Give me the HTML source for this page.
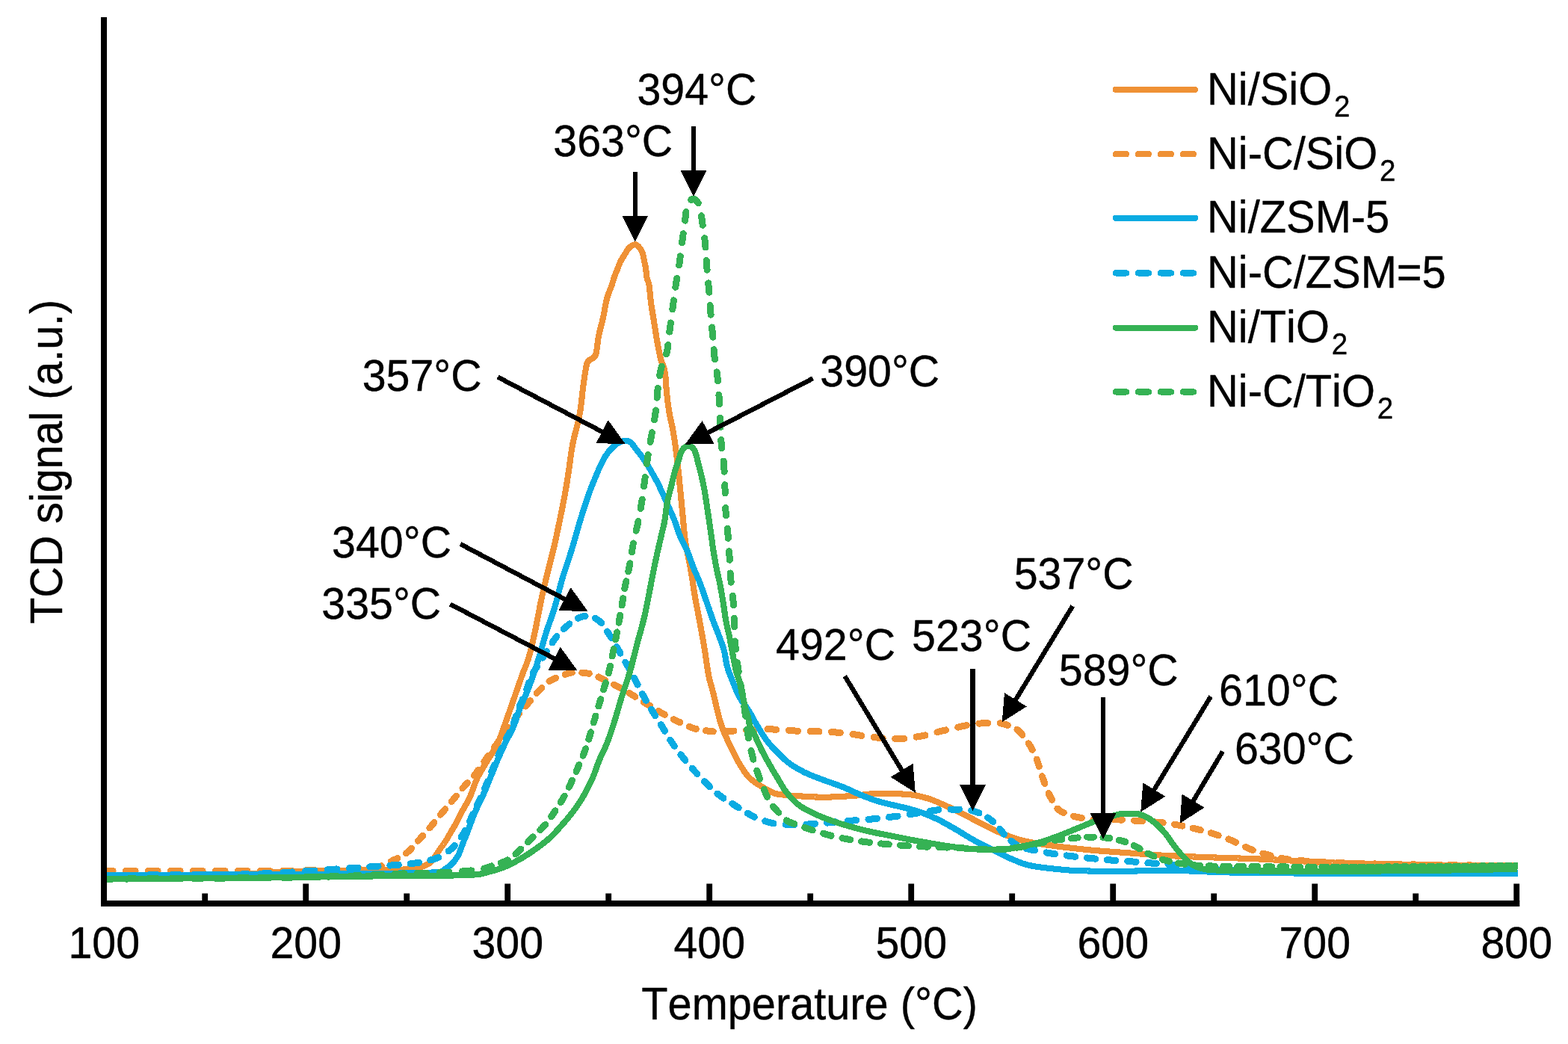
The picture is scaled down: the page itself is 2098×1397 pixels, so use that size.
<!DOCTYPE html>
<html lang="en"><head><meta charset="utf-8"><title>H2-TPR profiles</title>
<style>
html,body{margin:0;padding:0;background:#fff;}
body{width:2098px;height:1397px;overflow:hidden;}
svg{display:block;}
text{font-family:"Liberation Sans",Arial,Helvetica,sans-serif;font-size:59.4px;fill:#000;font-kerning:none;stroke:#000;stroke-width:0.4px;stroke-linejoin:round;}
.t{font-size:61.2px;}
.sub{font-size:40.8px;}
.c{fill:none;stroke-width:8.1;stroke-linejoin:round;stroke-linecap:butt;}
.d{stroke-linecap:round;stroke-width:9.0;}
</style></head><body>
<svg width="2098" height="1397" viewBox="0 0 2098 1397">
<rect width="2098" height="1397" fill="#fff"/>

<defs><clipPath id="pc"><rect x="138" y="0" width="1893" height="1205"/></clipPath></defs>
<g id="curves" clip-path="url(#pc)" shape-rendering="crispEdges">
<path class="c" stroke="#EF9135" d="M138.0,1172.0L140.0,1172.0L142.0,1172.0L144.0,1172.0L146.0,1172.0L148.0,1172.0L150.0,1172.0L152.0,1172.0L154.0,1172.0L156.0,1172.0L158.0,1172.0L160.0,1172.0L162.0,1172.0L164.0,1172.0L166.0,1171.9L168.0,1171.9L170.0,1171.9L172.0,1171.9L174.0,1171.9L176.0,1171.9L178.0,1171.9L180.0,1171.9L182.0,1171.9L184.0,1171.9L186.0,1171.9L188.0,1171.9L190.0,1171.9L192.0,1171.8L194.0,1171.8L196.0,1171.8L198.0,1171.8L200.0,1171.8L202.0,1171.8L204.0,1171.8L206.0,1171.8L208.0,1171.8L210.0,1171.7L212.0,1171.7L214.0,1171.7L216.0,1171.7L218.0,1171.7L220.0,1171.7L222.0,1171.7L224.0,1171.7L226.0,1171.7L228.0,1171.6L230.0,1171.6L232.0,1171.6L234.0,1171.6L236.0,1171.6L238.0,1171.6L240.0,1171.6L242.0,1171.6L244.0,1171.5L246.0,1171.5L248.0,1171.5L250.0,1171.5L252.0,1171.5L254.0,1171.5L256.0,1171.5L258.0,1171.4L260.0,1171.4L262.0,1171.4L264.0,1171.4L266.0,1171.4L268.0,1171.4L270.0,1171.4L272.0,1171.3L274.0,1171.3L276.0,1171.3L278.0,1171.3L280.0,1171.3L282.0,1171.2L284.0,1171.2L286.0,1171.2L288.0,1171.2L290.0,1171.2L292.0,1171.1L294.0,1171.1L296.0,1171.1L298.0,1171.0L300.0,1171.0L302.0,1171.0L304.0,1170.9L306.0,1170.8L308.0,1170.8L310.0,1170.7L312.0,1170.6L314.0,1170.5L316.0,1170.4L318.0,1170.3L320.0,1170.2L322.0,1170.1L324.0,1170.0L326.0,1169.8L328.0,1169.7L330.0,1169.6L332.0,1169.5L334.0,1169.3L336.0,1169.2L338.0,1169.1L340.0,1169.0L342.0,1168.9L344.0,1168.8L346.0,1168.6L348.0,1168.5L350.0,1168.4L352.0,1168.2L354.0,1168.1L356.0,1167.9L358.0,1167.8L360.0,1167.7L362.0,1167.5L364.0,1167.4L366.0,1167.2L368.0,1167.1L370.0,1167.0L372.0,1166.9L374.0,1166.8L376.0,1166.7L378.0,1166.6L380.0,1166.5L382.0,1166.4L384.0,1166.4L386.0,1166.3L388.0,1166.2L390.0,1166.2L392.0,1166.1L394.0,1166.1L396.0,1166.0L398.0,1166.0L400.0,1165.9L402.0,1165.9L404.0,1165.8L406.0,1165.8L408.0,1165.8L410.0,1165.7L412.0,1165.7L414.0,1165.6L416.0,1165.6L418.0,1165.5L420.0,1165.5L422.0,1165.5L424.0,1165.4L426.0,1165.4L428.0,1165.3L430.0,1165.3L432.0,1165.2L434.0,1165.2L436.0,1165.1L438.0,1165.1L440.0,1165.1L442.0,1165.0L444.0,1165.0L446.0,1164.9L448.0,1164.9L450.0,1164.8L452.0,1164.8L454.0,1164.8L456.0,1164.7L458.0,1164.7L460.0,1164.6L462.0,1164.6L464.0,1164.5L466.0,1164.5L468.0,1164.5L470.0,1164.4L472.0,1164.4L474.0,1164.4L476.0,1164.3L478.0,1164.3L480.0,1164.3L482.0,1164.2L484.0,1164.2L486.0,1164.2L488.0,1164.1L490.0,1164.1L492.0,1164.1L494.0,1164.1L496.0,1164.1L498.0,1164.0L500.0,1164.0L502.0,1164.0L504.0,1164.0L506.0,1164.0L508.0,1164.0L510.0,1163.9L512.0,1163.9L514.0,1163.9L516.0,1163.9L518.0,1163.9L520.0,1163.8L522.0,1163.8L524.0,1163.8L526.0,1163.8L528.0,1163.7L530.0,1163.7L532.0,1163.7L534.0,1163.6L536.0,1163.6L538.0,1163.6L540.0,1163.5L542.0,1163.4L544.0,1163.3L546.0,1163.1L548.0,1162.9L550.0,1162.7L552.0,1162.4L554.0,1162.1L556.0,1161.7L558.0,1161.4L560.0,1161.0L562.0,1160.5L564.0,1160.0L565.5,1159.5L567.0,1158.9L568.5,1158.3L570.0,1157.6L571.5,1156.9L573.0,1156.1L574.5,1155.1L576.0,1154.0L577.5,1152.6L578.5,1151.4L579.5,1150.1L580.5,1148.7L581.5,1147.2L582.5,1145.6L583.5,1144.0L584.5,1142.4L585.5,1140.8L586.5,1139.3L587.5,1137.9L588.5,1136.5L589.5,1135.1L590.5,1133.7L591.5,1132.3L592.5,1130.9L593.5,1129.5L594.5,1128.0L595.5,1126.5L596.5,1125.0L597.5,1123.4L598.5,1121.8L599.5,1120.1L600.5,1118.3L601.5,1116.6L602.5,1114.9L603.5,1113.1L604.5,1111.4L605.5,1109.7L606.5,1108.0L607.5,1106.4L608.5,1104.7L609.5,1102.9L610.5,1101.1L611.5,1099.1L612.5,1097.2L613.5,1095.1L614.5,1093.1L615.5,1091.1L616.5,1089.1L617.5,1087.2L618.5,1085.3L619.5,1083.5L620.5,1081.8L621.5,1080.0L622.5,1078.3L623.5,1076.5L624.5,1074.7L625.5,1072.9L626.5,1070.9L627.5,1069.0L628.5,1066.9L629.5,1064.7L630.5,1062.2L631.5,1059.6L632.5,1056.8L633.5,1054.0L634.5,1051.2L635.5,1048.5L636.5,1045.9L637.5,1043.6L638.5,1041.4L639.5,1039.4L640.5,1037.5L641.5,1035.6L642.5,1033.8L643.5,1032.0L644.5,1030.3L645.5,1028.7L646.5,1027.0L647.5,1025.4L648.5,1023.7L649.5,1022.1L650.5,1020.4L651.5,1018.7L652.5,1017.0L653.5,1015.4L654.5,1013.8L655.5,1012.3L656.5,1010.8L657.5,1009.3L658.5,1007.7L659.5,1006.2L660.5,1004.6L661.5,1003.0L662.5,1001.3L663.5,999.5L664.5,997.7L665.5,995.7L666.5,993.6L667.5,991.4L668.5,988.9L669.5,986.2L670.5,983.5L671.5,980.7L672.5,977.8L673.5,975.0L674.5,972.2L675.5,969.4L676.5,966.6L677.5,963.8L678.5,961.0L679.5,958.1L680.5,955.3L681.5,952.4L682.5,949.6L683.5,946.7L684.5,943.9L685.5,941.0L686.5,938.1L687.5,935.3L688.5,932.4L689.5,929.5L690.5,926.7L691.5,923.8L692.5,920.9L693.5,918.0L694.5,915.1L695.5,912.2L696.5,909.4L697.5,906.5L698.5,903.7L699.5,901.0L700.5,898.4L701.5,895.9L702.5,893.5L703.5,891.0L704.5,888.4L705.5,885.7L706.5,882.8L707.0,881.3L707.5,879.7L708.0,878.0L708.5,876.2L709.0,874.4L709.5,872.5L710.0,870.6L710.5,868.6L711.0,866.5L711.5,864.4L712.0,862.3L712.5,860.1L713.0,857.9L713.5,855.7L714.0,853.5L714.5,851.2L715.0,849.0L715.5,846.7L716.0,844.4L716.5,842.0L717.0,839.5L717.5,837.0L718.0,834.5L718.5,831.9L719.0,829.3L719.5,826.7L720.0,824.1L720.5,821.5L721.0,818.9L721.5,816.3L722.0,813.7L722.5,811.1L723.0,808.6L723.5,806.1L724.0,803.7L724.5,801.3L725.0,799.0L725.5,796.7L726.0,794.5L726.5,792.3L727.0,790.1L727.5,787.9L728.0,785.8L728.5,783.6L729.0,781.5L729.5,779.4L730.0,777.3L730.5,775.2L731.0,773.2L731.5,771.1L732.0,769.1L732.5,767.1L733.0,765.0L733.5,763.0L734.0,761.0L734.5,759.0L735.0,757.0L735.5,755.0L736.0,753.0L736.5,751.0L737.0,749.0L737.5,747.0L738.0,745.1L738.5,743.2L739.0,741.2L739.5,739.2L740.0,737.1L740.5,735.1L741.0,733.0L741.5,730.9L742.0,728.8L742.5,726.6L743.0,724.5L743.5,722.2L744.0,720.0L744.5,717.7L745.0,715.3L745.5,712.9L746.0,710.5L746.5,708.0L747.0,705.6L747.5,703.1L748.0,700.7L748.5,698.3L749.0,695.9L749.5,693.5L750.0,691.2L750.5,688.8L751.0,686.4L751.5,684.0L752.0,681.5L752.5,679.0L753.0,676.5L753.5,673.9L754.0,671.4L754.5,668.8L755.0,666.1L755.5,663.4L756.0,660.7L756.5,657.8L757.0,654.9L757.5,652.0L758.0,649.0L758.5,646.0L759.0,642.9L759.5,639.7L760.0,636.5L760.5,633.3L761.0,630.0L761.5,626.6L762.0,622.9L762.5,619.1L763.0,615.3L763.5,611.5L764.0,607.8L764.5,604.4L765.0,601.2L765.5,598.3L766.0,595.6L766.5,593.1L767.0,590.7L767.5,588.4L768.0,586.3L768.5,584.2L769.0,582.1L769.5,580.2L770.0,578.2L770.5,576.3L771.0,574.4L771.5,572.5L772.0,570.6L772.5,568.6L773.0,566.5L773.5,564.4L774.0,562.1L774.5,559.8L775.0,557.3L775.5,554.7L776.0,551.9L776.5,549.0L777.0,545.7L777.5,541.8L778.0,537.5L778.5,533.0L779.0,528.5L779.5,523.9L780.0,519.6L780.5,515.6L781.0,512.0L781.5,508.7L782.0,505.3L782.5,501.9L783.0,498.6L783.5,495.5L784.0,492.6L784.5,490.0L785.0,487.9L785.5,486.2L786.5,484.2L787.5,482.9L789.0,481.5L790.5,480.6L792.0,479.9L793.5,479.0L795.0,477.8L796.0,476.6L797.0,475.0L798.0,471.0L798.5,467.8L799.0,464.1L799.5,460.2L800.0,456.4L800.5,452.9L801.0,450.0L801.5,447.6L802.0,445.3L802.5,443.1L803.0,441.0L803.5,439.1L804.0,437.1L804.5,435.2L805.0,433.3L805.5,431.3L806.0,429.3L806.5,427.2L807.0,425.0L807.5,422.6L808.0,420.1L808.5,417.4L809.0,414.7L809.5,411.9L810.0,409.2L810.5,406.7L811.0,404.2L811.5,402.0L812.0,400.0L812.5,398.2L813.0,396.6L813.5,395.0L814.5,392.2L815.5,389.6L816.5,387.1L817.5,384.5L818.5,381.8L819.5,378.7L820.0,377.1L820.5,375.4L821.0,373.7L821.5,372.0L822.0,370.5L823.0,367.8L824.0,365.3L825.0,362.9L826.0,360.4L827.0,357.9L828.0,355.2L829.0,352.7L830.0,350.4L831.0,348.5L832.0,346.7L833.0,345.0L834.0,343.5L835.0,341.9L836.0,340.4L837.0,338.7L838.0,337.0L839.0,335.3L840.0,333.7L841.0,332.3L842.0,331.3L843.5,330.1L845.0,329.1L846.5,328.2L848.0,327.6L850.0,327.2L852.0,327.9L853.5,329.1L854.5,330.2L855.5,331.4L856.5,332.6L857.5,334.0L858.5,335.9L859.5,338.2L860.5,341.3L861.0,343.6L861.5,346.4L862.0,349.2L862.5,351.6L863.0,353.8L863.5,356.1L864.0,358.9L864.5,363.0L865.0,368.7L865.5,371.7L866.0,373.5L867.0,376.0L868.0,379.1L868.5,381.7L869.0,385.7L869.5,390.6L870.0,395.7L870.5,400.7L871.0,405.0L871.5,408.6L872.0,411.9L872.5,415.1L873.0,418.1L873.5,421.0L874.0,424.0L874.5,426.9L875.0,430.0L875.5,433.2L876.0,436.4L876.5,439.6L877.0,442.8L877.5,446.0L878.0,449.1L878.5,452.1L879.0,455.0L879.5,457.8L880.0,460.5L880.5,463.2L881.0,465.9L881.5,468.5L882.0,471.0L882.5,473.4L883.0,475.7L883.5,477.9L884.0,480.0L884.5,481.9L885.0,483.5L886.0,486.2L887.0,488.6L888.0,491.4L888.5,493.1L889.0,495.0L889.5,497.3L890.0,500.0L890.5,504.6L891.0,511.5L891.5,518.9L892.0,525.0L892.5,529.8L893.0,534.2L893.5,538.3L894.0,542.2L894.5,545.7L895.0,549.0L895.5,552.0L896.0,554.8L896.5,557.3L897.0,559.7L897.5,562.0L898.0,564.2L898.5,566.4L899.0,568.7L899.5,571.0L900.0,573.5L900.5,576.1L901.0,579.0L901.5,582.1L902.0,585.3L902.5,588.7L903.0,592.2L903.5,595.8L904.0,599.5L904.5,603.4L905.0,607.3L905.5,611.4L906.0,615.5L906.5,619.7L907.0,624.0L907.5,628.4L908.0,633.1L908.5,638.0L909.0,643.0L909.5,648.1L910.0,653.3L910.5,658.6L911.0,663.8L911.5,668.9L912.0,674.0L912.5,679.1L913.0,684.5L913.5,689.9L914.0,695.4L914.5,700.9L915.0,706.1L915.5,711.2L916.0,715.9L916.5,720.2L917.0,724.0L917.5,727.4L918.0,730.5L918.5,733.4L919.0,736.2L919.5,738.7L920.0,741.2L920.5,743.6L921.0,745.9L921.5,748.3L922.0,750.6L922.5,753.1L923.0,755.6L923.5,758.2L924.0,761.0L924.5,764.0L925.0,767.0L925.5,770.2L926.0,773.4L926.5,776.7L927.0,780.0L927.5,783.3L928.0,786.6L928.5,789.8L929.0,793.0L929.5,796.0L930.0,799.0L930.5,801.8L931.0,804.6L931.5,807.3L932.0,810.0L932.5,812.6L933.0,815.2L933.5,817.7L934.0,820.3L934.5,822.8L935.0,825.4L935.5,828.0L936.0,830.6L936.5,833.3L937.0,836.0L937.5,838.8L938.0,841.6L938.5,844.4L939.0,847.2L939.5,850.1L940.0,852.9L940.5,855.8L941.0,858.7L941.5,861.7L942.0,864.6L942.5,867.6L943.0,870.6L943.5,873.7L944.0,877.0L944.5,880.3L945.0,883.7L945.5,887.1L946.0,890.5L946.5,893.8L947.0,897.0L947.5,900.0L948.0,902.8L948.5,905.3L949.0,907.6L949.5,909.8L950.0,911.8L950.5,913.7L951.0,915.5L951.5,917.2L952.0,918.9L952.5,920.7L953.0,922.4L953.5,924.2L954.0,926.1L954.5,928.1L955.0,930.2L955.5,932.3L956.0,934.5L956.5,936.7L957.0,938.9L957.5,941.1L958.0,943.3L958.5,945.4L959.0,947.5L959.5,949.5L960.0,951.5L960.5,953.5L961.0,955.4L961.5,957.4L962.0,959.3L962.5,961.2L963.0,963.1L963.5,964.8L964.0,966.5L964.5,968.2L965.0,969.7L966.0,972.6L967.0,975.3L968.0,977.9L969.0,980.4L970.0,982.8L971.0,985.1L972.0,987.3L973.0,989.5L974.0,991.7L975.0,993.8L976.0,995.9L977.0,998.0L978.0,1000.1L979.0,1002.2L980.0,1004.3L981.0,1006.3L982.0,1008.3L983.0,1010.3L984.0,1012.3L985.0,1014.2L986.0,1016.0L987.0,1017.9L988.0,1019.6L989.0,1021.3L990.0,1023.0L991.0,1024.6L992.0,1026.2L993.0,1027.9L994.0,1029.4L995.0,1031.0L996.0,1032.5L997.0,1033.9L998.0,1035.3L999.0,1036.6L1000.0,1037.8L1001.0,1039.0L1002.0,1040.0L1003.5,1041.4L1005.0,1042.8L1006.5,1044.0L1008.0,1045.2L1009.5,1046.3L1011.0,1047.4L1012.5,1048.4L1014.0,1049.4L1015.5,1050.3L1017.0,1051.2L1018.5,1052.1L1020.0,1053.0L1021.5,1053.9L1023.0,1054.8L1024.5,1055.6L1026.0,1056.5L1027.5,1057.4L1029.0,1058.2L1030.5,1059.0L1032.0,1059.8L1033.5,1060.5L1035.0,1061.1L1036.5,1061.6L1038.5,1062.2L1040.5,1062.6L1042.5,1062.9L1044.5,1063.2L1046.5,1063.4L1048.5,1063.7L1050.5,1063.9L1052.5,1064.1L1054.5,1064.3L1056.5,1064.4L1058.5,1064.6L1060.5,1064.7L1062.5,1064.8L1064.5,1065.0L1066.5,1065.1L1068.5,1065.2L1070.5,1065.4L1072.5,1065.5L1074.5,1065.6L1076.5,1065.7L1078.5,1065.9L1080.5,1066.0L1082.5,1066.1L1084.5,1066.2L1086.5,1066.3L1088.5,1066.4L1090.5,1066.5L1092.5,1066.5L1094.5,1066.6L1096.5,1066.6L1098.5,1066.7L1100.5,1066.7L1102.5,1066.7L1104.5,1066.7L1106.5,1066.7L1108.5,1066.6L1110.5,1066.6L1112.5,1066.5L1114.5,1066.4L1116.5,1066.4L1118.5,1066.3L1120.5,1066.2L1122.5,1066.1L1124.5,1065.9L1126.5,1065.8L1128.5,1065.7L1130.5,1065.6L1132.5,1065.5L1134.5,1065.3L1136.5,1065.2L1138.5,1065.1L1140.5,1065.0L1142.5,1064.8L1144.5,1064.7L1146.5,1064.5L1148.5,1064.3L1150.5,1064.0L1152.5,1063.8L1154.5,1063.6L1156.5,1063.3L1158.5,1063.1L1160.5,1062.8L1162.5,1062.6L1164.5,1062.4L1166.5,1062.2L1168.5,1062.1L1170.5,1061.9L1172.5,1061.8L1174.5,1061.7L1176.5,1061.7L1178.5,1061.7L1180.5,1061.7L1182.5,1061.7L1184.5,1061.8L1186.5,1061.8L1188.5,1061.8L1190.5,1061.9L1192.5,1061.9L1194.5,1062.0L1196.5,1062.1L1198.5,1062.2L1200.5,1062.2L1202.5,1062.3L1204.5,1062.4L1206.5,1062.5L1208.5,1062.6L1210.5,1062.7L1212.5,1062.8L1214.5,1063.0L1216.5,1063.1L1218.5,1063.3L1220.5,1063.6L1222.5,1063.9L1224.5,1064.2L1226.5,1064.6L1228.5,1065.1L1230.5,1065.5L1232.5,1066.0L1234.5,1066.5L1236.5,1067.1L1238.5,1067.6L1240.5,1068.1L1242.5,1068.7L1244.5,1069.4L1246.0,1069.9L1247.5,1070.5L1249.0,1071.0L1250.5,1071.6L1252.0,1072.3L1253.5,1072.9L1255.0,1073.5L1256.5,1074.2L1258.0,1074.9L1259.5,1075.6L1261.0,1076.2L1262.5,1076.9L1264.0,1077.6L1265.5,1078.2L1267.0,1078.9L1268.5,1079.6L1270.0,1080.2L1271.5,1080.9L1273.0,1081.6L1274.5,1082.4L1276.0,1083.1L1277.5,1083.8L1279.0,1084.5L1280.5,1085.3L1282.0,1086.0L1283.5,1086.8L1285.0,1087.5L1286.5,1088.3L1288.0,1089.0L1289.5,1089.8L1291.0,1090.5L1292.5,1091.3L1294.0,1092.0L1295.5,1092.8L1297.0,1093.6L1298.5,1094.4L1300.0,1095.2L1301.5,1096.0L1303.0,1096.8L1304.5,1097.6L1306.0,1098.4L1307.5,1099.1L1309.0,1099.9L1310.5,1100.7L1312.0,1101.5L1313.5,1102.2L1315.0,1103.0L1316.5,1103.8L1318.0,1104.5L1319.5,1105.3L1321.0,1106.0L1322.5,1106.8L1324.0,1107.5L1325.5,1108.3L1327.0,1109.0L1328.5,1109.8L1330.0,1110.5L1331.5,1111.2L1333.0,1111.9L1334.5,1112.6L1336.0,1113.3L1337.5,1113.9L1339.0,1114.6L1340.5,1115.2L1342.0,1115.8L1343.5,1116.4L1345.0,1117.0L1346.5,1117.7L1348.0,1118.2L1349.5,1118.8L1351.0,1119.4L1352.5,1120.0L1354.0,1120.5L1355.5,1121.1L1357.0,1121.6L1358.5,1122.1L1360.5,1122.7L1362.5,1123.3L1364.5,1123.9L1366.5,1124.4L1368.5,1124.9L1370.5,1125.3L1372.5,1125.8L1374.5,1126.2L1376.5,1126.6L1378.5,1127.0L1380.5,1127.4L1382.5,1127.7L1384.5,1128.1L1386.5,1128.4L1388.5,1128.8L1390.5,1129.1L1392.5,1129.4L1394.5,1129.7L1396.5,1130.0L1398.5,1130.3L1400.5,1130.6L1402.5,1130.9L1404.5,1131.2L1406.5,1131.4L1408.5,1131.7L1410.5,1132.0L1412.5,1132.2L1414.5,1132.5L1416.5,1132.7L1418.5,1133.0L1420.5,1133.2L1422.5,1133.5L1424.5,1133.7L1426.5,1133.9L1428.5,1134.2L1430.5,1134.4L1432.5,1134.6L1434.5,1134.9L1436.5,1135.1L1438.5,1135.3L1440.5,1135.5L1442.5,1135.8L1444.5,1136.0L1446.5,1136.2L1448.5,1136.4L1450.5,1136.6L1452.5,1136.8L1454.5,1137.0L1456.5,1137.2L1458.5,1137.4L1460.5,1137.6L1462.5,1137.8L1464.5,1138.0L1466.5,1138.1L1468.5,1138.3L1470.5,1138.5L1472.5,1138.6L1474.5,1138.8L1476.5,1138.9L1478.5,1139.1L1480.5,1139.3L1482.5,1139.4L1484.5,1139.5L1486.5,1139.7L1488.5,1139.8L1490.5,1140.0L1492.5,1140.1L1494.5,1140.3L1496.5,1140.4L1498.5,1140.5L1500.5,1140.7L1502.5,1140.8L1504.5,1141.0L1506.5,1141.1L1508.5,1141.2L1510.5,1141.4L1512.5,1141.5L1514.5,1141.7L1516.5,1141.8L1518.5,1142.0L1520.5,1142.1L1522.5,1142.3L1524.5,1142.4L1526.5,1142.6L1528.5,1142.7L1530.5,1142.9L1532.5,1143.0L1534.5,1143.2L1536.5,1143.3L1538.5,1143.5L1540.5,1143.6L1542.5,1143.8L1544.5,1143.9L1546.5,1144.1L1548.5,1144.2L1550.5,1144.3L1552.5,1144.5L1554.5,1144.6L1556.5,1144.7L1558.5,1144.8L1560.5,1144.9L1562.5,1145.0L1564.5,1145.1L1566.5,1145.2L1568.5,1145.3L1570.5,1145.4L1572.5,1145.5L1574.5,1145.6L1576.5,1145.7L1578.5,1145.8L1580.5,1145.8L1582.5,1145.9L1584.5,1146.0L1586.5,1146.1L1588.5,1146.2L1590.5,1146.2L1592.5,1146.3L1594.5,1146.4L1596.5,1146.5L1598.5,1146.5L1600.5,1146.6L1602.5,1146.7L1604.5,1146.7L1606.5,1146.8L1608.5,1146.9L1610.5,1147.0L1612.5,1147.0L1614.5,1147.1L1616.5,1147.2L1618.5,1147.3L1620.5,1147.3L1622.5,1147.4L1624.5,1147.5L1626.5,1147.5L1628.5,1147.6L1630.5,1147.7L1632.5,1147.7L1634.5,1147.8L1636.5,1147.9L1638.5,1147.9L1640.5,1148.0L1642.5,1148.0L1644.5,1148.1L1646.5,1148.2L1648.5,1148.2L1650.5,1148.3L1652.5,1148.4L1654.5,1148.4L1656.5,1148.5L1658.5,1148.5L1660.5,1148.6L1662.5,1148.7L1664.5,1148.8L1666.5,1148.8L1668.5,1148.9L1670.5,1149.0L1672.5,1149.0L1674.5,1149.1L1676.5,1149.2L1678.5,1149.3L1680.5,1149.4L1682.5,1149.4L1684.5,1149.5L1686.5,1149.6L1688.5,1149.7L1690.5,1149.8L1692.5,1149.9L1694.5,1150.0L1696.5,1150.1L1698.5,1150.2L1700.5,1150.3L1702.5,1150.4L1704.5,1150.5L1706.5,1150.5L1708.5,1150.6L1710.5,1150.7L1712.5,1150.8L1714.5,1150.9L1716.5,1151.0L1718.5,1151.1L1720.5,1151.2L1722.5,1151.3L1724.5,1151.4L1726.5,1151.5L1728.5,1151.6L1730.5,1151.7L1732.5,1151.8L1734.5,1151.9L1736.5,1152.0L1738.5,1152.1L1740.5,1152.2L1742.5,1152.3L1744.5,1152.5L1746.5,1152.6L1748.5,1152.7L1750.5,1152.8L1752.5,1152.9L1754.5,1153.0L1756.5,1153.1L1758.5,1153.3L1760.5,1153.4L1762.5,1153.5L1764.5,1153.6L1766.5,1153.7L1768.5,1153.8L1770.5,1153.9L1772.5,1154.0L1774.5,1154.1L1776.5,1154.2L1778.5,1154.3L1780.5,1154.4L1782.5,1154.5L1784.5,1154.5L1786.5,1154.6L1788.5,1154.7L1790.5,1154.7L1792.5,1154.8L1794.5,1154.9L1796.5,1154.9L1798.5,1155.0L1800.5,1155.0L1802.5,1155.1L1804.5,1155.1L1806.5,1155.2L1808.5,1155.2L1810.5,1155.3L1812.5,1155.3L1814.5,1155.4L1816.5,1155.4L1818.5,1155.5L1820.5,1155.5L1822.5,1155.6L1824.5,1155.6L1826.5,1155.7L1828.5,1155.7L1830.5,1155.7L1832.5,1155.8L1834.5,1155.8L1836.5,1155.9L1838.5,1155.9L1840.5,1155.9L1842.5,1156.0L1844.5,1156.0L1846.5,1156.0L1848.5,1156.1L1850.5,1156.1L1852.5,1156.2L1854.5,1156.2L1856.5,1156.2L1858.5,1156.3L1860.5,1156.3L1862.5,1156.3L1864.5,1156.4L1866.5,1156.4L1868.5,1156.5L1870.5,1156.5L1872.5,1156.5L1874.5,1156.6L1876.5,1156.6L1878.5,1156.7L1880.5,1156.7L1882.5,1156.7L1884.5,1156.8L1886.5,1156.8L1888.5,1156.9L1890.5,1156.9L1892.5,1156.9L1894.5,1157.0L1896.5,1157.0L1898.5,1157.0L1900.5,1157.1L1902.5,1157.1L1904.5,1157.2L1906.5,1157.2L1908.5,1157.2L1910.5,1157.3L1912.5,1157.3L1914.5,1157.3L1916.5,1157.4L1918.5,1157.4L1920.5,1157.4L1922.5,1157.5L1924.5,1157.5L1926.5,1157.5L1928.5,1157.5L1930.5,1157.6L1932.5,1157.6L1934.5,1157.6L1936.5,1157.7L1938.5,1157.7L1940.5,1157.7L1942.5,1157.7L1944.5,1157.7L1946.5,1157.8L1948.5,1157.8L1950.5,1157.8L1952.5,1157.8L1954.5,1157.8L1956.5,1157.9L1958.5,1157.9L1960.5,1157.9L1962.5,1157.9L1964.5,1157.9L1966.5,1157.9L1968.5,1158.0L1970.5,1158.0L1972.5,1158.0L1974.5,1158.0L1976.5,1158.0L1978.5,1158.0L1980.5,1158.1L1982.5,1158.1L1984.5,1158.1L1986.5,1158.1L1988.5,1158.1L1990.5,1158.1L1992.5,1158.1L1994.5,1158.2L1996.5,1158.2L1998.5,1158.2L2000.5,1158.2L2002.5,1158.2L2004.5,1158.2L2006.5,1158.2L2008.5,1158.2L2010.5,1158.2L2012.5,1158.3L2014.5,1158.3L2016.5,1158.3L2018.5,1158.3L2020.5,1158.3L2022.5,1158.3L2024.5,1158.3L2026.5,1158.3L2028.5,1158.3L2030.0,1158.3"/>
<path class="c d" stroke="#EF9135" d="M138.5,1165.3L141.1,1165.3L143.7,1165.3L146.3,1165.3L148.9,1165.3L151.1,1165.3M168.5,1165.3L171.1,1165.3L173.7,1165.3L176.3,1165.3L178.9,1165.3L181.1,1165.3M198.5,1165.3L201.1,1165.3L203.7,1165.3L206.3,1165.3L208.9,1165.3L211.1,1165.3M228.5,1165.3L231.1,1165.3L233.7,1165.3L236.3,1165.3L238.9,1165.3L241.1,1165.3M258.5,1165.3L261.1,1165.3L263.7,1165.3L266.3,1165.3L268.9,1165.3L271.1,1165.3M288.5,1165.3L291.1,1165.3L293.7,1165.3L296.3,1165.3L298.9,1165.3L301.1,1165.3M318.5,1165.3L321.1,1165.3L323.7,1165.3L326.3,1165.3L328.9,1165.3L331.1,1165.3M348.5,1165.3L351.1,1165.3L353.7,1165.3L356.3,1165.3L358.9,1165.3L361.1,1165.3M378.4,1165.3L380.9,1165.3L383.4,1165.3L385.9,1165.2L388.4,1165.2L390.9,1165.2L391.0,1165.2M408.4,1164.9L410.9,1164.9L413.4,1164.8L415.9,1164.8L418.4,1164.7L420.9,1164.7L421.0,1164.7M438.4,1164.3L440.9,1164.2L443.4,1164.2L445.9,1164.1L448.4,1164.0L450.9,1164.0L451.0,1164.0M468.4,1163.5L470.9,1163.4L473.4,1163.3L475.8,1163.2L478.2,1163.1L480.6,1162.9L481.0,1162.9M498.4,1161.7L500.7,1161.4L502.9,1161.0L505.0,1160.5L507.0,1160.0L508.9,1159.3L510.3,1158.8M523.1,1152.9L524.8,1151.9L526.5,1151.0L528.2,1150.2L529.9,1149.4L531.6,1148.5L531.8,1148.4M543.4,1141.9L544.8,1140.8L546.2,1139.5L547.5,1138.3L548.8,1137.0L550.1,1135.6L550.5,1135.2M559.4,1125.2L560.7,1123.8L562.0,1122.4L563.2,1121.1L564.4,1119.8L565.6,1118.4L565.9,1118.1M574.8,1108.0L576.0,1106.6L577.2,1105.2L578.4,1103.7L579.6,1102.3L580.8,1100.8L581.0,1100.5M589.4,1090.2L590.6,1088.8L591.8,1087.3L593.0,1085.9L594.2,1084.5L595.4,1083.1L595.6,1082.8M604.3,1072.5L605.5,1071.1L606.7,1069.6L607.9,1068.2L609.1,1066.7L610.3,1065.2L610.4,1065.1M618.9,1054.8L620.1,1053.4L621.3,1052.0L622.5,1050.7L623.8,1049.3L625.1,1047.9L625.4,1047.6M634.5,1037.6L635.7,1036.1L636.8,1034.7L637.9,1033.3L639.0,1031.8L640.1,1030.2L640.3,1030.0M647.9,1019.0L649.0,1017.4L650.1,1015.9L651.2,1014.3L652.3,1012.8L653.4,1011.2L653.5,1011.1M661.3,1000.2L662.4,998.6L663.5,997.1L664.6,995.6L665.7,994.0L666.8,992.5L667.0,992.2M674.7,981.3L675.8,979.8L676.9,978.3L678.0,976.7L679.1,975.2L680.2,973.7L680.4,973.5M688.3,962.7L689.4,961.3L690.5,959.9L691.7,958.4L692.9,956.9L694.1,955.5L694.4,955.1M703.2,945.1L704.4,943.7L705.6,942.3L706.8,940.9L708.0,939.4L709.2,938.0L709.5,937.6M718.1,927.5L719.4,926.1L720.7,924.8L722.0,923.5L723.3,922.2L724.6,920.8L724.9,920.5M735.0,911.7L736.6,910.7L738.3,909.8L740.0,908.9L741.7,908.1L743.5,907.3M756.1,902.6L757.9,901.9L759.7,901.2L761.6,900.5L763.7,900.1L765.3,900.0M778.7,900.1L781.0,900.3L783.3,900.6L785.5,900.9L787.7,901.3L788.3,901.4M800.8,905.9L802.5,906.8L804.2,907.6L805.9,908.5L807.7,909.3L809.5,910.2M821.5,916.2L823.2,917.0L824.9,917.9L826.6,918.9L828.3,919.8L830.0,920.7L830.1,920.8M841.7,927.4L843.3,928.3L844.9,929.3L846.5,930.2L848.1,931.2L849.7,932.1L850.0,932.3M861.3,939.4L862.9,940.5L864.5,941.5L866.1,942.4L867.7,943.4L869.3,944.4L869.6,944.6M881.0,951.5L882.6,952.5L884.2,953.4L885.8,954.4L887.4,955.3L889.1,956.2L889.4,956.4M901.3,962.6L903.0,963.4L904.7,964.3L906.4,965.1L908.2,965.9L910.0,966.7M922.2,972.3L924.0,973.0L925.9,973.8L927.8,974.4L929.8,975.0L931.4,975.4M944.5,977.7L946.7,978.0L949.0,978.3L951.3,978.6L953.7,978.8L954.3,978.8M969.9,978.7L972.3,978.6L974.7,978.5L977.1,978.3L979.5,978.2L981.9,978.0M998.4,976.9L1000.7,976.7L1003.0,976.5L1005.3,976.3L1007.7,976.1L1010.1,975.9L1010.4,975.9M1026.9,975.6L1029.4,975.7L1031.8,975.8L1034.2,976.0L1036.6,976.1L1038.9,976.2M1055.5,977.3L1057.8,977.5L1060.1,977.7L1062.5,977.9L1064.9,978.1L1067.3,978.3L1067.4,978.3M1084.0,978.7L1086.5,978.7L1089.0,978.8L1091.5,978.8L1094.0,978.8L1096.0,978.9M1112.5,979.5L1114.9,979.7L1117.3,979.9L1119.7,980.1L1122.1,980.3L1124.4,980.5L1124.5,980.5M1140.9,982.5L1143.1,982.8L1145.3,983.2L1147.5,983.6L1149.7,983.9L1151.9,984.3L1152.8,984.4M1169.2,986.6L1171.5,986.9L1173.8,987.1L1176.1,987.4L1178.4,987.6L1180.8,987.8L1181.2,987.8M1197.7,988.4L1200.2,988.5L1202.7,988.5L1205.2,988.5L1207.7,988.4L1209.7,988.3M1226.1,986.1L1228.3,985.8L1230.5,985.4L1232.7,985.0L1234.8,984.6L1236.9,984.1L1237.9,983.9M1254.0,979.7L1256.0,979.2L1258.1,978.7L1260.2,978.2L1262.3,977.7L1264.3,977.2L1265.6,976.9M1281.7,973.1L1283.8,972.6L1285.9,972.2L1288.0,971.7L1290.1,971.3L1292.2,970.8L1293.5,970.5M1309.8,968.1L1312.3,968.0L1314.8,967.9L1317.3,967.8L1319.8,967.7L1321.8,967.7M1338.3,967.8L1340.5,968.2L1342.6,968.7L1344.6,969.3L1346.5,969.9L1348.4,970.5M1361.0,976.2L1362.4,977.3L1363.7,978.5L1365.0,979.8L1366.2,981.2L1367.4,982.6L1368.0,983.4M1376.2,994.8L1377.2,996.3L1378.2,997.9L1379.2,999.5L1380.2,1001.3L1381.1,1002.9L1381.3,1003.3M1387.2,1016.0L1387.9,1018.0L1388.6,1020.1L1389.3,1022.3L1389.9,1024.3L1390.3,1025.6M1394.4,1038.8L1395.1,1040.8L1395.8,1042.7L1396.5,1044.6L1397.2,1046.6L1397.9,1048.5M1403.0,1061.3L1403.8,1063.1L1404.7,1064.9L1405.6,1066.7L1406.5,1068.4L1407.4,1070.1L1407.5,1070.3M1414.8,1082.0L1416.1,1083.3L1417.6,1084.4L1419.2,1085.4L1420.8,1086.3L1422.5,1087.2L1423.2,1087.5M1436.5,1092.2L1438.6,1092.7L1440.7,1093.2L1442.8,1093.6L1444.9,1094.0L1447.0,1094.5L1447.3,1094.5M1463.0,1096.6L1465.5,1096.7L1468.0,1096.7L1470.5,1096.8L1473.0,1096.8L1474.4,1096.8M1490.2,1096.9L1492.7,1096.9L1495.2,1096.9L1497.7,1097.0L1500.2,1097.0L1501.7,1097.0M1517.5,1098.1L1519.9,1098.3L1522.3,1098.5L1524.7,1098.7L1527.1,1098.8L1528.9,1098.9M1544.7,1099.9L1547.1,1100.1L1549.5,1100.3L1551.8,1100.5L1554.1,1100.7L1556.1,1100.9M1571.5,1103.2L1573.7,1103.6L1575.9,1104.0L1578.1,1104.4L1580.3,1104.8L1581.9,1105.1M1596.1,1108.2L1598.2,1108.7L1600.3,1109.2L1602.4,1109.7L1604.4,1110.2L1606.3,1110.7M1620.2,1114.7L1622.2,1115.3L1624.2,1115.9L1626.1,1116.6L1628.0,1117.2L1629.9,1117.8L1630.2,1117.9M1643.9,1122.9L1645.7,1123.7L1647.5,1124.4L1649.3,1125.3L1651.0,1126.1L1652.7,1126.9L1653.4,1127.2M1666.5,1133.5L1668.3,1134.3L1670.1,1135.0L1671.9,1135.8L1673.7,1136.6L1675.5,1137.3L1676.2,1137.6M1689.9,1142.2L1691.9,1142.7L1693.9,1143.2L1695.9,1143.7L1698.0,1144.3L1700.1,1144.8M1714.1,1148.4L1716.2,1148.8L1718.3,1149.2L1720.5,1149.6L1722.8,1149.9L1724.5,1150.1M1738.9,1151.5L1741.3,1151.7L1743.7,1151.9L1746.1,1152.1L1748.5,1152.3L1749.4,1152.3M1763.8,1153.4L1766.2,1153.5L1768.6,1153.7L1771.0,1153.8L1773.4,1154.0L1774.3,1154.0M1788.8,1154.7L1791.3,1154.8L1793.8,1154.9L1796.3,1154.9L1798.8,1155.0L1799.3,1155.0M1813.8,1155.4L1816.3,1155.5L1818.8,1155.5L1821.3,1155.6L1823.8,1155.6L1824.3,1155.6M1838.8,1155.9L1841.3,1156.0L1843.8,1156.0L1846.3,1156.0L1848.8,1156.1L1849.3,1156.1M1863.8,1156.4L1866.3,1156.4L1868.8,1156.5L1871.3,1156.5L1873.8,1156.6L1874.3,1156.6M1888.8,1156.9L1891.3,1156.9L1893.8,1157.0L1896.3,1157.0L1898.8,1157.1L1899.3,1157.1M1913.8,1157.3L1916.3,1157.4L1918.8,1157.4L1921.3,1157.4L1923.8,1157.5L1924.3,1157.5M1938.8,1157.7L1941.3,1157.7L1943.8,1157.7L1946.3,1157.8L1948.8,1157.8L1949.3,1157.8M1963.8,1157.9L1966.3,1157.9L1968.8,1158.0L1971.3,1158.0L1973.8,1158.0L1974.3,1158.0M1988.8,1158.1L1991.3,1158.1L1993.8,1158.2L1996.3,1158.2L1998.8,1158.2L1999.3,1158.2M2013.8,1158.3L2016.3,1158.3L2018.8,1158.3L2021.3,1158.3L2023.8,1158.3L2024.3,1158.3"/>
<path class="c" stroke="#0AABE2" d="M138.0,1171.0L140.0,1171.0L142.0,1171.0L144.0,1171.0L146.0,1171.0L148.0,1171.0L150.0,1171.0L152.0,1171.0L154.0,1171.0L156.0,1170.9L158.0,1170.9L160.0,1170.9L162.0,1170.9L164.0,1170.9L166.0,1170.9L168.0,1170.9L170.0,1170.9L172.0,1170.9L174.0,1170.9L176.0,1170.9L178.0,1170.9L180.0,1170.9L182.0,1170.9L184.0,1170.9L186.0,1170.8L188.0,1170.8L190.0,1170.8L192.0,1170.8L194.0,1170.8L196.0,1170.8L198.0,1170.8L200.0,1170.8L202.0,1170.8L204.0,1170.8L206.0,1170.8L208.0,1170.8L210.0,1170.8L212.0,1170.7L214.0,1170.7L216.0,1170.7L218.0,1170.7L220.0,1170.7L222.0,1170.7L224.0,1170.7L226.0,1170.7L228.0,1170.7L230.0,1170.7L232.0,1170.7L234.0,1170.7L236.0,1170.6L238.0,1170.6L240.0,1170.6L242.0,1170.6L244.0,1170.6L246.0,1170.6L248.0,1170.6L250.0,1170.6L252.0,1170.6L254.0,1170.6L256.0,1170.6L258.0,1170.6L260.0,1170.5L262.0,1170.5L264.0,1170.5L266.0,1170.5L268.0,1170.5L270.0,1170.5L272.0,1170.5L274.0,1170.5L276.0,1170.5L278.0,1170.5L280.0,1170.5L282.0,1170.4L284.0,1170.4L286.0,1170.4L288.0,1170.4L290.0,1170.4L292.0,1170.4L294.0,1170.4L296.0,1170.4L298.0,1170.4L300.0,1170.4L302.0,1170.3L304.0,1170.3L306.0,1170.3L308.0,1170.3L310.0,1170.3L312.0,1170.3L314.0,1170.3L316.0,1170.3L318.0,1170.3L320.0,1170.3L322.0,1170.2L324.0,1170.2L326.0,1170.2L328.0,1170.2L330.0,1170.2L332.0,1170.2L334.0,1170.2L336.0,1170.2L338.0,1170.2L340.0,1170.2L342.0,1170.1L344.0,1170.1L346.0,1170.1L348.0,1170.1L350.0,1170.1L352.0,1170.1L354.0,1170.1L356.0,1170.1L358.0,1170.1L360.0,1170.1L362.0,1170.0L364.0,1170.0L366.0,1170.0L368.0,1170.0L370.0,1170.0L372.0,1170.0L374.0,1170.0L376.0,1170.0L378.0,1170.0L380.0,1169.9L382.0,1169.9L384.0,1169.9L386.0,1169.9L388.0,1169.9L390.0,1169.9L392.0,1169.9L394.0,1169.9L396.0,1169.9L398.0,1169.9L400.0,1169.8L402.0,1169.8L404.0,1169.8L406.0,1169.8L408.0,1169.8L410.0,1169.8L412.0,1169.8L414.0,1169.8L416.0,1169.7L418.0,1169.7L420.0,1169.7L422.0,1169.7L424.0,1169.7L426.0,1169.7L428.0,1169.7L430.0,1169.7L432.0,1169.6L434.0,1169.6L436.0,1169.6L438.0,1169.6L440.0,1169.6L442.0,1169.6L444.0,1169.5L446.0,1169.5L448.0,1169.5L450.0,1169.5L452.0,1169.5L454.0,1169.5L456.0,1169.4L458.0,1169.4L460.0,1169.4L462.0,1169.4L464.0,1169.4L466.0,1169.4L468.0,1169.3L470.0,1169.3L472.0,1169.3L474.0,1169.3L476.0,1169.3L478.0,1169.3L480.0,1169.2L482.0,1169.2L484.0,1169.2L486.0,1169.2L488.0,1169.2L490.0,1169.1L492.0,1169.1L494.0,1169.1L496.0,1169.1L498.0,1169.0L500.0,1169.0L502.0,1169.0L504.0,1169.0L506.0,1169.0L508.0,1168.9L510.0,1168.9L512.0,1168.9L514.0,1168.8L516.0,1168.8L518.0,1168.8L520.0,1168.8L522.0,1168.7L524.0,1168.7L526.0,1168.7L528.0,1168.6L530.0,1168.6L532.0,1168.6L534.0,1168.5L536.0,1168.5L538.0,1168.5L540.0,1168.4L542.0,1168.4L544.0,1168.4L546.0,1168.3L548.0,1168.3L550.0,1168.2L552.0,1168.2L554.0,1168.1L556.0,1168.1L558.0,1168.0L560.0,1168.0L562.0,1168.0L564.0,1167.9L566.0,1167.9L568.0,1167.8L570.0,1167.8L572.0,1167.7L574.0,1167.6L576.0,1167.6L578.0,1167.5L580.0,1167.4L582.0,1167.2L584.0,1167.1L586.0,1166.9L588.0,1166.7L590.0,1166.5L591.5,1165.9L593.0,1164.8L594.5,1163.6L596.0,1162.6L597.5,1161.6L599.0,1160.6L600.5,1159.6L602.0,1158.4L603.5,1157.1L605.0,1155.6L606.0,1154.6L607.0,1153.4L608.0,1152.2L609.0,1150.8L610.0,1149.4L611.0,1147.9L612.0,1146.3L613.0,1144.6L614.0,1142.7L615.0,1140.4L616.0,1137.8L617.0,1134.9L618.0,1132.1L619.0,1129.3L620.0,1126.8L621.0,1124.3L622.0,1121.8L623.0,1119.4L624.0,1116.9L625.0,1114.4L626.0,1111.9L627.0,1109.2L628.0,1106.5L629.0,1103.8L630.0,1101.0L631.0,1098.3L632.0,1095.6L633.0,1092.9L634.0,1090.4L635.0,1088.0L636.0,1085.7L637.0,1083.6L638.0,1081.5L639.0,1079.4L640.0,1077.4L641.0,1075.4L642.0,1073.4L643.0,1071.4L644.0,1069.3L645.0,1067.1L646.0,1064.9L647.0,1062.6L648.0,1060.3L649.0,1057.9L650.0,1055.5L651.0,1053.0L652.0,1050.6L653.0,1048.1L654.0,1045.7L655.0,1043.2L656.0,1040.8L657.0,1038.3L658.0,1035.8L659.0,1033.4L660.0,1030.9L661.0,1028.4L662.0,1025.9L663.0,1023.5L664.0,1021.1L665.0,1018.7L666.0,1016.4L667.0,1014.1L668.0,1011.8L669.0,1009.5L670.0,1007.3L671.0,1005.1L672.0,1002.9L673.0,1000.7L674.0,998.5L675.0,996.4L676.0,994.3L677.0,992.2L678.0,990.3L679.0,988.3L680.0,986.4L681.0,984.6L682.0,982.7L683.0,980.8L684.0,978.8L685.0,976.7L686.0,974.6L687.0,972.3L688.0,969.9L689.0,967.2L690.0,964.3L691.0,961.3L691.5,959.7L692.0,958.2L692.5,956.7L693.0,955.2L694.0,952.2L695.0,949.5L696.0,946.9L697.0,944.5L698.0,942.1L699.0,939.8L700.0,937.6L701.0,935.4L702.0,933.1L703.0,930.8L704.0,928.5L705.0,926.0L706.0,923.5L707.0,921.0L708.0,918.4L709.0,915.8L710.0,913.2L711.0,910.4L712.0,907.7L713.0,904.9L714.0,902.0L715.0,899.1L716.0,896.1L716.5,894.6L717.0,893.1L717.5,891.5L718.0,889.9L718.5,888.4L719.0,886.8L719.5,885.2L720.0,883.6L720.5,882.0L721.0,880.3L721.5,878.7L722.0,877.0L722.5,875.3L723.0,873.6L723.5,871.8L724.0,870.0L724.5,868.2L725.0,866.4L725.5,864.6L726.0,862.8L726.5,861.1L727.0,859.3L727.5,857.5L728.0,855.7L728.5,854.0L729.0,852.3L729.5,850.6L730.0,849.0L730.5,847.4L731.0,845.8L731.5,844.3L732.0,842.8L733.0,839.8L734.0,836.9L735.0,834.0L736.0,831.1L737.0,828.3L738.0,825.4L739.0,822.5L740.0,819.5L740.5,817.9L741.0,816.4L741.5,814.8L742.0,813.2L742.5,811.5L743.0,809.8L743.5,808.0L744.0,806.2L744.5,804.4L745.0,802.5L745.5,800.6L746.0,798.7L746.5,796.7L747.0,794.8L747.5,792.8L748.0,790.8L748.5,788.9L749.0,786.9L749.5,785.0L750.0,783.0L750.5,781.2L751.0,779.3L751.5,777.5L752.0,775.7L752.5,774.0L753.0,772.3L753.5,770.7L754.0,769.1L754.5,767.5L755.0,765.9L755.5,764.4L756.0,762.9L756.5,761.4L757.5,758.4L758.5,755.5L759.5,752.5L760.5,749.6L761.5,746.6L762.0,745.0L762.5,743.5L763.0,741.9L763.5,740.3L764.0,738.7L764.5,737.1L765.0,735.4L765.5,733.7L766.0,732.0L766.5,730.3L767.0,728.6L767.5,726.9L768.0,725.2L768.5,723.4L769.0,721.7L769.5,720.0L770.0,718.3L770.5,716.5L771.0,714.8L771.5,713.0L772.0,711.3L772.5,709.5L773.0,707.8L773.5,706.0L774.0,704.3L774.5,702.6L775.0,700.9L775.5,699.2L776.0,697.5L776.5,695.9L777.0,694.3L777.5,692.6L778.0,691.0L778.5,689.4L779.0,687.8L779.5,686.2L780.0,684.7L780.5,683.1L781.0,681.5L781.5,680.0L782.0,678.5L782.5,676.9L783.0,675.4L783.5,673.9L784.0,672.3L784.5,670.8L785.0,669.3L786.0,666.4L787.0,663.5L788.0,660.7L789.0,657.9L790.0,655.3L791.0,652.7L792.0,650.1L793.0,647.6L794.0,645.2L795.0,642.7L796.0,640.3L797.0,637.8L798.0,635.4L799.0,633.0L800.0,630.7L801.0,628.4L802.0,626.2L803.0,624.0L804.0,621.9L805.0,619.8L806.0,617.8L807.0,615.8L808.0,613.9L809.0,612.1L810.0,610.5L811.0,609.0L812.0,607.6L813.0,606.2L814.0,604.9L815.0,603.6L816.0,602.5L817.0,601.4L818.0,600.3L819.0,599.3L820.5,597.8L822.0,596.5L823.5,595.4L825.0,594.3L826.5,593.3L828.0,592.4L829.5,591.7L831.0,591.1L832.5,590.5L834.0,590.0L836.0,589.6L838.0,589.6L840.0,590.1L841.5,590.7L843.0,591.5L844.5,592.7L845.5,593.7L846.5,594.9L847.5,596.1L848.5,597.5L849.5,598.9L850.5,600.3L851.5,601.6L852.5,602.9L853.5,604.1L854.5,605.4L855.5,606.6L856.5,607.9L857.5,609.2L858.5,610.5L859.5,611.9L860.5,613.3L861.5,614.7L862.5,616.3L863.5,617.8L864.5,619.4L865.5,621.0L866.5,622.6L867.5,624.2L868.5,625.9L869.5,627.6L870.5,629.3L871.5,631.0L872.5,632.7L873.5,634.4L874.5,636.2L875.5,637.9L876.5,639.7L877.5,641.6L878.5,643.4L879.5,645.3L880.5,647.3L881.5,649.3L882.5,651.4L883.5,653.5L884.5,655.7L885.5,657.9L886.5,660.1L887.5,662.3L888.5,664.5L889.5,666.8L890.5,669.0L891.5,671.3L892.5,673.6L893.5,675.9L894.5,678.2L895.5,680.4L896.5,682.7L897.5,684.9L898.5,687.1L899.5,689.3L900.5,691.6L901.5,694.0L902.5,696.5L903.5,699.2L904.5,702.2L905.5,705.1L906.5,708.1L907.5,711.0L908.5,713.7L909.5,716.2L910.5,718.6L911.5,720.8L912.5,722.9L913.5,725.0L914.5,727.0L915.5,729.0L916.5,731.0L917.5,733.1L918.5,735.2L919.5,737.4L920.5,739.8L921.5,742.3L922.5,744.9L923.5,747.7L924.5,750.5L925.5,753.3L926.5,756.1L927.5,758.7L928.5,761.2L929.5,763.7L930.5,766.0L931.5,768.3L932.5,770.5L933.5,772.8L934.5,775.1L935.5,777.5L936.5,780.0L937.5,782.6L938.5,785.4L939.5,788.2L940.5,791.0L941.5,793.9L942.5,796.9L943.5,799.8L944.5,802.7L945.5,805.6L946.5,808.5L947.5,811.4L948.5,814.3L949.5,817.3L950.5,820.2L951.5,823.1L952.5,825.9L953.5,828.7L954.5,831.5L955.5,834.1L956.5,836.7L957.5,839.2L958.5,841.7L959.5,844.3L960.5,846.8L961.5,849.4L962.5,852.1L963.5,854.8L964.5,857.4L965.5,860.0L966.5,862.8L967.5,865.8L968.0,867.5L968.5,869.3L969.0,871.2L969.5,873.6L970.0,876.2L970.5,879.1L971.0,882.0L971.5,884.8L972.0,887.5L972.5,889.9L973.0,891.9L973.5,893.6L974.0,895.2L974.5,896.8L975.5,899.6L976.5,902.2L977.5,904.6L978.5,907.1L979.5,909.7L980.5,912.3L981.5,914.9L982.5,917.5L983.5,920.0L984.5,922.4L985.5,924.6L986.5,926.7L987.5,928.8L988.5,930.8L989.5,932.7L990.5,934.5L991.5,936.2L992.5,937.8L993.5,939.3L994.5,940.6L995.5,941.9L996.5,943.2L997.5,944.5L998.5,945.8L999.5,947.3L1000.5,948.8L1001.5,950.4L1002.5,952.1L1003.5,953.8L1004.5,955.6L1005.5,957.4L1006.5,959.3L1007.5,961.1L1008.5,963.0L1009.5,964.8L1010.5,966.6L1011.5,968.3L1012.5,970.0L1013.5,971.6L1014.5,973.3L1015.5,974.9L1016.5,976.6L1017.5,978.2L1018.5,979.8L1019.5,981.4L1020.5,983.0L1021.5,984.5L1022.5,986.1L1023.5,987.5L1024.5,989.0L1025.5,990.4L1026.5,991.7L1027.5,993.0L1028.5,994.2L1029.5,995.4L1030.5,996.6L1031.5,997.7L1032.5,998.8L1033.5,999.9L1034.5,1000.9L1035.5,1002.0L1036.5,1003.0L1037.5,1004.0L1038.5,1005.0L1039.5,1006.0L1040.5,1007.0L1041.5,1008.0L1042.5,1009.0L1043.5,1010.0L1044.5,1011.0L1046.0,1012.5L1047.5,1014.0L1049.0,1015.4L1050.5,1016.8L1052.0,1018.1L1053.5,1019.3L1055.0,1020.5L1056.5,1021.6L1058.0,1022.7L1059.5,1023.7L1061.0,1024.7L1062.5,1025.7L1064.0,1026.6L1065.5,1027.5L1067.0,1028.4L1068.5,1029.3L1070.0,1030.1L1071.5,1030.9L1073.0,1031.7L1074.5,1032.5L1076.0,1033.3L1077.5,1034.0L1079.0,1034.7L1080.5,1035.4L1082.0,1036.1L1083.5,1036.7L1085.0,1037.3L1086.5,1037.9L1088.0,1038.5L1089.5,1039.1L1091.0,1039.7L1092.5,1040.3L1094.0,1040.8L1095.5,1041.4L1097.0,1041.9L1098.5,1042.5L1100.0,1043.1L1101.5,1043.6L1103.0,1044.2L1104.5,1044.7L1106.0,1045.3L1107.5,1045.8L1109.0,1046.4L1110.5,1046.9L1112.0,1047.4L1113.5,1047.9L1115.0,1048.4L1116.5,1049.0L1118.0,1049.5L1119.5,1050.0L1121.0,1050.6L1122.5,1051.1L1124.0,1051.7L1125.5,1052.2L1127.0,1052.8L1128.5,1053.4L1130.0,1054.0L1131.5,1054.7L1133.0,1055.3L1134.5,1056.0L1136.0,1056.7L1137.5,1057.3L1139.0,1058.0L1140.5,1058.7L1142.0,1059.4L1143.5,1060.1L1145.0,1060.8L1146.5,1061.5L1148.0,1062.1L1149.5,1062.8L1151.0,1063.4L1152.5,1064.0L1154.0,1064.6L1155.5,1065.2L1157.0,1065.8L1158.5,1066.4L1160.0,1066.9L1161.5,1067.5L1163.0,1068.1L1164.5,1068.7L1166.0,1069.2L1167.5,1069.7L1169.0,1070.3L1170.5,1070.8L1172.0,1071.3L1174.0,1071.9L1176.0,1072.6L1178.0,1073.1L1180.0,1073.7L1182.0,1074.2L1184.0,1074.7L1186.0,1075.2L1188.0,1075.7L1190.0,1076.1L1192.0,1076.6L1194.0,1077.0L1196.0,1077.5L1198.0,1077.9L1200.0,1078.4L1202.0,1078.9L1204.0,1079.4L1206.0,1079.9L1208.0,1080.3L1210.0,1080.8L1212.0,1081.3L1214.0,1081.8L1216.0,1082.3L1218.0,1082.8L1220.0,1083.3L1222.0,1083.9L1224.0,1084.4L1226.0,1085.0L1228.0,1085.7L1230.0,1086.3L1231.5,1086.8L1233.0,1087.4L1234.5,1087.9L1236.0,1088.5L1237.5,1089.1L1239.0,1089.6L1240.5,1090.3L1242.0,1090.9L1243.5,1091.5L1245.0,1092.1L1246.5,1092.8L1248.0,1093.5L1249.5,1094.1L1251.0,1094.8L1252.5,1095.5L1254.0,1096.2L1255.5,1096.9L1257.0,1097.7L1258.5,1098.4L1260.0,1099.2L1261.5,1100.0L1263.0,1100.8L1264.5,1101.6L1266.0,1102.5L1267.5,1103.3L1269.0,1104.2L1270.5,1105.0L1272.0,1105.9L1273.5,1106.7L1275.0,1107.6L1276.5,1108.4L1278.0,1109.3L1279.5,1110.2L1281.0,1111.0L1282.5,1111.9L1284.0,1112.8L1285.5,1113.8L1287.0,1114.7L1288.5,1115.6L1290.0,1116.6L1291.5,1117.5L1293.0,1118.4L1294.5,1119.3L1296.0,1120.2L1297.5,1121.1L1299.0,1122.0L1300.5,1122.9L1302.0,1123.7L1303.5,1124.5L1305.0,1125.4L1306.5,1126.2L1308.0,1126.9L1309.5,1127.7L1311.0,1128.5L1312.5,1129.3L1314.0,1130.0L1315.5,1130.8L1317.0,1131.5L1318.5,1132.2L1320.0,1133.0L1321.5,1133.7L1323.0,1134.5L1324.5,1135.2L1326.0,1136.0L1327.5,1136.7L1329.0,1137.5L1330.5,1138.2L1332.0,1139.0L1333.5,1139.8L1335.0,1140.5L1336.5,1141.3L1338.0,1142.1L1339.5,1142.9L1341.0,1143.6L1342.5,1144.4L1344.0,1145.1L1345.5,1145.8L1347.0,1146.6L1348.5,1147.3L1350.0,1147.9L1351.5,1148.6L1353.0,1149.2L1354.5,1149.8L1356.0,1150.5L1357.5,1151.1L1359.0,1151.7L1360.5,1152.3L1362.0,1153.0L1363.5,1153.6L1365.0,1154.1L1366.5,1154.7L1368.0,1155.3L1369.5,1155.8L1371.5,1156.4L1373.5,1157.0L1375.5,1157.5L1377.5,1158.0L1379.5,1158.4L1381.5,1158.8L1383.5,1159.1L1385.5,1159.5L1387.5,1159.8L1389.5,1160.1L1391.5,1160.4L1393.5,1160.6L1395.5,1160.9L1397.5,1161.1L1399.5,1161.4L1401.5,1161.6L1403.5,1161.8L1405.5,1162.0L1407.5,1162.3L1409.5,1162.5L1411.5,1162.7L1413.5,1162.9L1415.5,1163.1L1417.5,1163.3L1419.5,1163.5L1421.5,1163.7L1423.5,1163.9L1425.5,1164.1L1427.5,1164.3L1429.5,1164.4L1431.5,1164.6L1433.5,1164.7L1435.5,1164.8L1437.5,1164.9L1439.5,1165.0L1441.5,1165.1L1443.5,1165.1L1445.5,1165.2L1447.5,1165.2L1449.5,1165.3L1451.5,1165.4L1453.5,1165.4L1455.5,1165.5L1457.5,1165.5L1459.5,1165.6L1461.5,1165.6L1463.5,1165.7L1465.5,1165.7L1467.5,1165.8L1469.5,1165.8L1471.5,1165.8L1473.5,1165.9L1475.5,1165.9L1477.5,1165.9L1479.5,1165.9L1481.5,1166.0L1483.5,1166.0L1485.5,1166.0L1487.5,1166.0L1489.5,1166.0L1491.5,1166.0L1493.5,1166.0L1495.5,1166.0L1497.5,1166.0L1499.5,1165.9L1501.5,1165.9L1503.5,1165.9L1505.5,1165.8L1507.5,1165.8L1509.5,1165.8L1511.5,1165.7L1513.5,1165.7L1515.5,1165.6L1517.5,1165.6L1519.5,1165.5L1521.5,1165.5L1523.5,1165.4L1525.5,1165.4L1527.5,1165.3L1529.5,1165.3L1531.5,1165.2L1533.5,1165.2L1535.5,1165.1L1537.5,1165.1L1539.5,1165.0L1541.5,1165.0L1543.5,1165.0L1545.5,1164.9L1547.5,1164.9L1549.5,1164.9L1551.5,1164.8L1553.5,1164.8L1555.5,1164.8L1557.5,1164.8L1559.5,1164.8L1561.5,1164.8L1563.5,1164.8L1565.5,1164.8L1567.5,1164.8L1569.5,1164.9L1571.5,1164.9L1573.5,1164.9L1575.5,1165.0L1577.5,1165.0L1579.5,1165.1L1581.5,1165.1L1583.5,1165.2L1585.5,1165.3L1587.5,1165.3L1589.5,1165.4L1591.5,1165.5L1593.5,1165.6L1595.5,1165.6L1597.5,1165.7L1599.5,1165.8L1601.5,1165.9L1603.5,1166.0L1605.5,1166.0L1607.5,1166.1L1609.5,1166.2L1611.5,1166.3L1613.5,1166.4L1615.5,1166.5L1617.5,1166.6L1619.5,1166.6L1621.5,1166.7L1623.5,1166.8L1625.5,1166.9L1627.5,1167.0L1629.5,1167.0L1631.5,1167.1L1633.5,1167.2L1635.5,1167.2L1637.5,1167.3L1639.5,1167.3L1641.5,1167.4L1643.5,1167.4L1645.5,1167.5L1647.5,1167.5L1649.5,1167.6L1651.5,1167.6L1653.5,1167.6L1655.5,1167.7L1657.5,1167.7L1659.5,1167.8L1661.5,1167.8L1663.5,1167.8L1665.5,1167.9L1667.5,1167.9L1669.5,1167.9L1671.5,1168.0L1673.5,1168.0L1675.5,1168.0L1677.5,1168.1L1679.5,1168.1L1681.5,1168.1L1683.5,1168.1L1685.5,1168.2L1687.5,1168.2L1689.5,1168.2L1691.5,1168.2L1693.5,1168.3L1695.5,1168.3L1697.5,1168.3L1699.5,1168.3L1701.5,1168.3L1703.5,1168.3L1705.5,1168.3L1707.5,1168.3L1709.5,1168.4L1711.5,1168.4L1713.5,1168.4L1715.5,1168.4L1717.5,1168.4L1719.5,1168.4L1721.5,1168.4L1723.5,1168.4L1725.5,1168.4L1727.5,1168.4L1729.5,1168.4L1731.5,1168.5L1733.5,1168.5L1735.5,1168.5L1737.5,1168.5L1739.5,1168.5L1741.5,1168.5L1743.5,1168.5L1745.5,1168.5L1747.5,1168.5L1749.5,1168.5L1751.5,1168.5L1753.5,1168.5L1755.5,1168.5L1757.5,1168.5L1759.5,1168.5L1761.5,1168.5L1763.5,1168.6L1765.5,1168.6L1767.5,1168.6L1769.5,1168.6L1771.5,1168.6L1773.5,1168.6L1775.5,1168.6L1777.5,1168.6L1779.5,1168.6L1781.5,1168.6L1783.5,1168.6L1785.5,1168.6L1787.5,1168.6L1789.5,1168.6L1791.5,1168.6L1793.5,1168.6L1795.5,1168.6L1797.5,1168.6L1799.5,1168.6L1801.5,1168.6L1803.5,1168.6L1805.5,1168.6L1807.5,1168.6L1809.5,1168.6L1811.5,1168.6L1813.5,1168.6L1815.5,1168.6L1817.5,1168.6L1819.5,1168.6L1821.5,1168.6L1823.5,1168.6L1825.5,1168.7L1827.5,1168.7L1829.5,1168.7L1831.5,1168.7L1833.5,1168.7L1835.5,1168.7L1837.5,1168.7L1839.5,1168.7L1841.5,1168.7L1843.5,1168.7L1845.5,1168.7L1847.5,1168.7L1849.5,1168.7L1851.5,1168.7L1853.5,1168.7L1855.5,1168.7L1857.5,1168.7L1859.5,1168.7L1861.5,1168.7L1863.5,1168.7L1865.5,1168.7L1867.5,1168.7L1869.5,1168.7L1871.5,1168.7L1873.5,1168.7L1875.5,1168.7L1877.5,1168.7L1879.5,1168.7L1881.5,1168.7L1883.5,1168.7L1885.5,1168.7L1887.5,1168.7L1889.5,1168.7L1891.5,1168.7L1893.5,1168.7L1895.5,1168.7L1897.5,1168.7L1899.5,1168.7L1901.5,1168.7L1903.5,1168.7L1905.5,1168.7L1907.5,1168.7L1909.5,1168.7L1911.5,1168.7L1913.5,1168.7L1915.5,1168.7L1917.5,1168.8L1919.5,1168.8L1921.5,1168.8L1923.5,1168.8L1925.5,1168.8L1927.5,1168.8L1929.5,1168.8L1931.5,1168.8L1933.5,1168.8L1935.5,1168.8L1937.5,1168.8L1939.5,1168.8L1941.5,1168.8L1943.5,1168.8L1945.5,1168.8L1947.5,1168.8L1949.5,1168.8L1951.5,1168.8L1953.5,1168.8L1955.5,1168.8L1957.5,1168.8L1959.5,1168.8L1961.5,1168.8L1963.5,1168.8L1965.5,1168.8L1967.5,1168.8L1969.5,1168.8L1971.5,1168.8L1973.5,1168.8L1975.5,1168.8L1977.5,1168.8L1979.5,1168.8L1981.5,1168.8L1983.5,1168.8L1985.5,1168.8L1987.5,1168.8L1989.5,1168.8L1991.5,1168.8L1993.5,1168.8L1995.5,1168.8L1997.5,1168.8L1999.5,1168.8L2001.5,1168.8L2003.5,1168.8L2005.5,1168.8L2007.5,1168.8L2009.5,1168.8L2011.5,1168.8L2013.5,1168.8L2015.5,1168.8L2017.5,1168.8L2019.5,1168.8L2021.5,1168.8L2023.5,1168.8L2025.5,1168.8L2027.5,1168.8L2029.5,1168.8L2030.0,1168.8"/>
<path class="c d" stroke="#0AABE2" d="M138.4,1171.0L140.9,1171.0L143.4,1171.0L145.9,1171.0L148.4,1171.0L150.9,1171.0L151.0,1171.0M168.4,1171.0L170.9,1171.0L173.4,1171.0L175.9,1171.0L178.4,1171.0L180.9,1171.0L181.0,1171.0M198.4,1170.9L200.9,1170.9L203.4,1170.9L205.9,1170.9L208.4,1170.9L210.9,1170.9L211.0,1170.9M228.4,1170.9L230.9,1170.8L233.4,1170.8L235.9,1170.8L238.4,1170.8L240.9,1170.8L241.0,1170.8M258.4,1170.7L260.9,1170.7L263.4,1170.7L265.9,1170.7L268.4,1170.7L270.9,1170.7L271.0,1170.7M288.4,1170.6L290.9,1170.6L293.4,1170.5L295.9,1170.5L298.4,1170.5L300.9,1170.5L301.0,1170.5M318.4,1170.2L320.9,1170.1L323.4,1170.0L325.9,1169.9L328.4,1169.8L330.9,1169.7L331.0,1169.7M348.4,1169.1L350.9,1169.0L353.4,1168.9L355.9,1168.8L358.3,1168.7L360.7,1168.5L361.0,1168.5M378.4,1167.7L380.8,1167.5L383.2,1167.4L385.6,1167.3L388.0,1167.1L390.4,1167.0L391.0,1166.9M408.3,1165.8L410.7,1165.7L413.1,1165.5L415.5,1165.3L417.9,1165.2L420.3,1165.0L420.9,1165.0M438.3,1163.8L440.7,1163.6L443.1,1163.4L445.5,1163.3L447.9,1163.1L450.3,1162.9L450.8,1162.9M467.4,1161.8L469.8,1161.6L472.2,1161.4L474.6,1161.3L477.0,1161.1L478.9,1161.0M494.7,1159.9L497.1,1159.7L499.5,1159.5L501.9,1159.4L504.3,1159.2L506.1,1159.1M521.9,1158.1L524.3,1157.9L526.7,1157.8L529.1,1157.6L531.5,1157.4L533.3,1157.3M549.0,1155.8L551.3,1155.5L553.6,1155.2L555.9,1154.9L558.1,1154.6L560.3,1154.3L560.4,1154.3M575.9,1151.0L577.9,1150.4L579.9,1149.8L581.8,1149.1L583.7,1148.5L585.6,1147.7L586.7,1147.3M600.2,1139.0L601.6,1137.9L603.0,1136.7L604.4,1135.5L605.8,1134.2L607.1,1132.9L608.4,1131.5M617.1,1120.0L618.2,1118.4L619.2,1116.8L620.2,1115.3L621.2,1113.7L622.2,1112.0L622.6,1111.3M628.7,1099.0L629.5,1097.1L630.3,1095.1L631.1,1093.1L631.9,1091.2L632.6,1089.6M638.6,1077.1L639.5,1075.3L640.4,1073.4L641.3,1071.6L642.2,1069.7L643.0,1068.0M648.6,1055.1L649.4,1053.2L650.2,1051.2L651.0,1049.3L651.8,1047.3L652.4,1045.9M657.7,1032.9L658.5,1030.9L659.3,1028.9L660.1,1026.9L660.9,1024.9L661.4,1023.7M666.9,1010.9L667.7,1009.1L668.5,1007.3L669.3,1005.5L670.1,1003.8L670.9,1002.0L671.1,1001.6M677.1,989.1L678.0,987.4L678.9,985.7L679.8,984.0L680.7,982.3L681.6,980.6L681.8,980.2M687.4,967.4L688.1,965.4L688.8,963.4L689.5,961.3L690.2,959.1L690.6,957.9M695.4,944.7L696.2,942.8L697.0,941.0L697.8,939.2L698.6,937.4L699.4,935.6M704.8,922.6L705.5,920.6L706.2,918.6L706.9,916.5L707.6,914.4L708.0,913.2M713.3,900.4L714.3,898.8L715.3,897.2L716.3,895.6L717.3,894.1L718.3,892.5L718.7,891.9M726.2,880.1L727.2,878.5L728.2,876.9L729.2,875.3L730.2,873.6L731.2,872.0L731.5,871.5M739.0,859.9L740.0,858.3L741.1,856.7L742.2,855.2L743.3,853.7L744.4,852.2L744.9,851.6M754.3,841.5L755.6,840.3L757.0,839.1L758.4,837.8L759.8,836.7L761.2,835.5L761.9,834.9M773.5,827.3L775.3,826.5L777.1,825.8L779.0,825.1L781.1,824.7L783.1,824.5M796.5,827.4L798.1,828.4L799.6,829.4L801.1,830.4L802.6,831.6L804.0,832.9L804.6,833.5M812.5,845.0L813.6,846.6L814.6,848.2L815.6,849.8L816.6,851.4L817.6,853.0L817.9,853.5M825.0,865.4L826.0,867.1L827.0,868.9L828.0,870.6L829.0,872.4L830.0,874.2M836.9,886.3L837.9,887.9L838.9,889.6L839.9,891.3L840.9,893.0L841.9,894.7L842.0,894.9M848.7,907.1L849.6,908.9L850.5,910.7L851.4,912.6L852.3,914.5L853.1,916.2M859.4,928.6L860.3,930.2L861.2,931.8L862.2,933.6L863.2,935.3L864.2,937.1L864.4,937.4M871.5,949.3L872.5,950.9L873.5,952.5L874.5,954.1L875.5,955.6L876.5,957.2L876.9,957.8M884.4,969.6L885.4,971.3L886.4,972.9L887.4,974.6L888.4,976.3L889.4,978.0L889.5,978.2M896.8,990.2L897.8,991.7L898.9,993.3L900.0,994.9L901.1,996.5L902.2,998.1L902.5,998.5M910.8,1009.7L911.9,1011.1L913.0,1012.5L914.2,1014.0L915.4,1015.5L916.6,1017.0L917.0,1017.5M926.1,1028.1L927.3,1029.4L928.5,1030.8L929.7,1032.1L930.9,1033.4L932.1,1034.7L932.8,1035.5M942.4,1045.7L943.7,1047.0L945.0,1048.3L946.3,1049.5L947.6,1050.8L948.9,1052.0L949.6,1052.7M959.9,1062.0L961.3,1063.1L962.7,1064.3L964.2,1065.4L965.7,1066.5L967.2,1067.6L968.0,1068.1M979.8,1075.4L981.4,1076.4L983.0,1077.4L984.6,1078.5L986.2,1079.6L987.8,1080.6L988.2,1080.9M1000.1,1088.2L1001.7,1089.1L1003.4,1090.0L1005.1,1091.0L1006.8,1091.9L1008.5,1092.8L1009.3,1093.2M1023.8,1098.8L1025.7,1099.5L1027.7,1100.1L1029.7,1100.6L1031.7,1101.1L1033.8,1101.6L1035.0,1101.9M1051.1,1103.2L1053.5,1103.3L1056.0,1103.3L1058.5,1103.4L1061.0,1103.5L1062.7,1103.5M1078.8,1103.1L1081.2,1103.0L1083.6,1102.8L1086.0,1102.7L1088.4,1102.5L1090.5,1102.4M1106.6,1101.1L1108.9,1100.9L1111.2,1100.7L1113.5,1100.4L1115.8,1100.2L1118.1,1099.9L1118.2,1099.9M1134.2,1098.5L1136.6,1098.3L1139.0,1098.2L1141.4,1098.0L1143.8,1097.8L1145.8,1097.7M1161.9,1096.4L1164.2,1096.2L1166.5,1096.0L1168.8,1095.7L1171.1,1095.5L1173.4,1095.3L1173.5,1095.2M1189.5,1093.5L1191.8,1093.2L1194.1,1092.9L1196.4,1092.7L1198.7,1092.4L1201.0,1092.1L1201.1,1092.1M1217.1,1089.8L1219.3,1089.4L1221.5,1089.1L1223.7,1088.7L1225.9,1088.3L1228.1,1087.9L1228.6,1087.8M1244.5,1085.3L1246.7,1085.0L1248.9,1084.6L1251.1,1084.3L1253.3,1084.0L1255.6,1083.6L1256.0,1083.6M1272.1,1083.0L1274.7,1083.0L1277.3,1083.0L1279.8,1083.0L1282.4,1083.0L1283.8,1083.0M1299.7,1084.5L1301.7,1085.1L1303.6,1085.7L1305.5,1086.3L1307.4,1087.0L1309.3,1087.8L1309.9,1088.0M1321.5,1093.9L1323.0,1095.0L1324.5,1096.1L1326.0,1097.3L1327.4,1098.4L1328.8,1099.5L1329.0,1099.7M1337.7,1109.1L1338.8,1110.5L1339.9,1111.9L1341.0,1113.3L1342.2,1114.8L1343.4,1116.2L1343.5,1116.3M1352.9,1125.2L1354.3,1126.3L1355.7,1127.4L1357.2,1128.6L1358.7,1129.6L1360.3,1130.7L1360.4,1130.7M1373.5,1135.6L1375.6,1136.1L1377.7,1136.6L1379.8,1137.0L1381.9,1137.4L1384.0,1137.8L1384.7,1138.0M1400.2,1140.9L1402.4,1141.3L1404.6,1141.7L1406.8,1142.0L1409.0,1142.4L1411.2,1142.7L1411.5,1142.8M1427.2,1144.9L1429.5,1145.2L1431.8,1145.5L1434.1,1145.8L1436.4,1146.0L1438.6,1146.3M1454.3,1148.0L1456.6,1148.2L1458.9,1148.5L1461.2,1148.7L1463.5,1148.9L1465.7,1149.2M1481.4,1150.6L1483.8,1150.8L1486.2,1151.0L1488.6,1151.1L1491.0,1151.3L1492.9,1151.4M1508.7,1152.4L1511.1,1152.6L1513.5,1152.8L1515.9,1153.0L1518.3,1153.2L1520.1,1153.3M1535.8,1154.7L1538.2,1154.9L1540.6,1155.0L1543.0,1155.2L1545.4,1155.4L1547.3,1155.5M1563.0,1156.5L1565.4,1156.7L1567.8,1156.9L1570.2,1157.1L1572.5,1157.3L1574.5,1157.5M1590.2,1159.0L1592.5,1159.3L1594.8,1159.5L1597.1,1159.7L1599.4,1159.9L1601.6,1160.2M1617.3,1161.8L1619.6,1162.1L1621.9,1162.3L1624.2,1162.6L1626.5,1162.8L1628.7,1163.0M1644.5,1164.3L1646.9,1164.5L1649.3,1164.6L1651.7,1164.8L1654.1,1165.0L1655.9,1165.1M1671.7,1166.0L1674.1,1166.2L1676.5,1166.3L1678.9,1166.4L1681.3,1166.5L1683.1,1166.6M1699.0,1167.0L1701.5,1167.0L1704.0,1167.0L1706.5,1167.1L1709.0,1167.1L1710.4,1167.1M1726.2,1167.3L1728.7,1167.3L1731.2,1167.3L1733.7,1167.3L1736.2,1167.3L1737.7,1167.4M1753.5,1167.5L1756.0,1167.5L1758.5,1167.5L1761.0,1167.6L1763.5,1167.6L1765.0,1167.6M1780.8,1167.7L1783.3,1167.7L1785.8,1167.7L1788.3,1167.8L1790.8,1167.8L1792.2,1167.8M1808.0,1167.9L1810.5,1167.9L1813.0,1167.9L1815.5,1167.9L1818.0,1167.9L1819.5,1167.9M1835.3,1168.0L1837.8,1168.0L1840.3,1168.1L1842.8,1168.1L1845.3,1168.1L1846.8,1168.1M1862.6,1168.2L1865.1,1168.2L1867.6,1168.2L1870.1,1168.2L1872.6,1168.2L1874.0,1168.2M1889.9,1168.3L1892.4,1168.3L1894.9,1168.3L1897.4,1168.3L1899.9,1168.3L1901.3,1168.3M1917.1,1168.4L1919.6,1168.4L1922.1,1168.4L1924.6,1168.4L1927.1,1168.4L1928.6,1168.4M1944.4,1168.4L1946.9,1168.4L1949.4,1168.4L1951.9,1168.4L1954.4,1168.4L1955.9,1168.4M1971.7,1168.5L1974.2,1168.5L1976.7,1168.5L1979.2,1168.5L1981.7,1168.5L1983.1,1168.5M1999.0,1168.5L2001.5,1168.5L2004.0,1168.5L2006.5,1168.5L2009.0,1168.5L2010.4,1168.5M2026.2,1168.5L2028.7,1168.5L2030.0,1168.5"/>
<path class="c" stroke="#35B254" d="M138.0,1176.0L140.0,1176.0L142.0,1176.0L144.0,1176.0L146.0,1176.0L148.0,1176.0L150.0,1176.0L152.0,1176.0L154.0,1176.0L156.0,1175.9L158.0,1175.9L160.0,1175.9L162.0,1175.9L164.0,1175.9L166.0,1175.9L168.0,1175.9L170.0,1175.9L172.0,1175.9L174.0,1175.9L176.0,1175.9L178.0,1175.9L180.0,1175.9L182.0,1175.8L184.0,1175.8L186.0,1175.8L188.0,1175.8L190.0,1175.8L192.0,1175.8L194.0,1175.8L196.0,1175.8L198.0,1175.8L200.0,1175.8L202.0,1175.7L204.0,1175.7L206.0,1175.7L208.0,1175.7L210.0,1175.7L212.0,1175.7L214.0,1175.7L216.0,1175.7L218.0,1175.6L220.0,1175.6L222.0,1175.6L224.0,1175.6L226.0,1175.6L228.0,1175.6L230.0,1175.6L232.0,1175.5L234.0,1175.5L236.0,1175.5L238.0,1175.5L240.0,1175.5L242.0,1175.5L244.0,1175.5L246.0,1175.4L248.0,1175.4L250.0,1175.4L252.0,1175.4L254.0,1175.4L256.0,1175.4L258.0,1175.3L260.0,1175.3L262.0,1175.3L264.0,1175.3L266.0,1175.3L268.0,1175.3L270.0,1175.3L272.0,1175.2L274.0,1175.2L276.0,1175.2L278.0,1175.2L280.0,1175.2L282.0,1175.1L284.0,1175.1L286.0,1175.1L288.0,1175.1L290.0,1175.1L292.0,1175.1L294.0,1175.0L296.0,1175.0L298.0,1175.0L300.0,1175.0L302.0,1175.0L304.0,1174.9L306.0,1174.9L308.0,1174.9L310.0,1174.9L312.0,1174.9L314.0,1174.9L316.0,1174.8L318.0,1174.8L320.0,1174.8L322.0,1174.8L324.0,1174.8L326.0,1174.7L328.0,1174.7L330.0,1174.7L332.0,1174.7L334.0,1174.7L336.0,1174.6L338.0,1174.6L340.0,1174.6L342.0,1174.6L344.0,1174.6L346.0,1174.5L348.0,1174.5L350.0,1174.5L352.0,1174.5L354.0,1174.5L356.0,1174.4L358.0,1174.4L360.0,1174.4L362.0,1174.4L364.0,1174.4L366.0,1174.3L368.0,1174.3L370.0,1174.3L372.0,1174.3L374.0,1174.3L376.0,1174.2L378.0,1174.2L380.0,1174.2L382.0,1174.2L384.0,1174.1L386.0,1174.1L388.0,1174.1L390.0,1174.1L392.0,1174.0L394.0,1174.0L396.0,1174.0L398.0,1173.9L400.0,1173.9L402.0,1173.9L404.0,1173.8L406.0,1173.8L408.0,1173.8L410.0,1173.8L412.0,1173.7L414.0,1173.7L416.0,1173.7L418.0,1173.6L420.0,1173.6L422.0,1173.6L424.0,1173.5L426.0,1173.5L428.0,1173.5L430.0,1173.4L432.0,1173.4L434.0,1173.4L436.0,1173.3L438.0,1173.3L440.0,1173.3L442.0,1173.2L444.0,1173.2L446.0,1173.2L448.0,1173.1L450.0,1173.1L452.0,1173.1L454.0,1173.0L456.0,1173.0L458.0,1173.0L460.0,1172.9L462.0,1172.9L464.0,1172.9L466.0,1172.8L468.0,1172.8L470.0,1172.8L472.0,1172.8L474.0,1172.7L476.0,1172.7L478.0,1172.7L480.0,1172.6L482.0,1172.6L484.0,1172.6L486.0,1172.6L488.0,1172.6L490.0,1172.5L492.0,1172.5L494.0,1172.5L496.0,1172.5L498.0,1172.5L500.0,1172.4L502.0,1172.4L504.0,1172.4L506.0,1172.4L508.0,1172.4L510.0,1172.4L512.0,1172.3L514.0,1172.3L516.0,1172.3L518.0,1172.3L520.0,1172.3L522.0,1172.3L524.0,1172.3L526.0,1172.2L528.0,1172.2L530.0,1172.2L532.0,1172.2L534.0,1172.2L536.0,1172.2L538.0,1172.2L540.0,1172.2L542.0,1172.1L544.0,1172.1L546.0,1172.1L548.0,1172.1L550.0,1172.1L552.0,1172.1L554.0,1172.1L556.0,1172.0L558.0,1172.0L560.0,1172.0L562.0,1172.0L564.0,1172.0L566.0,1172.0L568.0,1171.9L570.0,1171.9L572.0,1171.9L574.0,1171.9L576.0,1171.9L578.0,1171.8L580.0,1171.8L582.0,1171.8L584.0,1171.8L586.0,1171.8L588.0,1171.7L590.0,1171.7L592.0,1171.7L594.0,1171.7L596.0,1171.6L598.0,1171.6L600.0,1171.6L602.0,1171.5L604.0,1171.5L606.0,1171.5L608.0,1171.4L610.0,1171.4L612.0,1171.4L614.0,1171.3L616.0,1171.3L618.0,1171.2L620.0,1171.1L622.0,1171.1L624.0,1171.0L626.0,1170.9L628.0,1170.8L630.0,1170.7L632.0,1170.6L634.0,1170.5L636.0,1170.3L638.0,1170.2L640.0,1170.0L642.0,1169.7L644.0,1169.3L646.0,1168.8L648.0,1168.3L650.0,1167.8L652.0,1167.2L654.0,1166.7L656.0,1166.2L658.0,1165.6L660.0,1165.1L662.0,1164.5L664.0,1163.9L666.0,1163.3L668.0,1162.6L669.5,1162.1L671.0,1161.6L672.5,1161.0L674.0,1160.5L675.5,1159.9L677.0,1159.2L678.5,1158.6L680.0,1157.9L681.5,1157.2L683.0,1156.4L684.5,1155.7L686.0,1154.9L687.5,1154.1L689.0,1153.3L690.5,1152.5L692.0,1151.6L693.5,1150.8L695.0,1150.0L696.5,1149.1L698.0,1148.3L699.5,1147.4L701.0,1146.5L702.5,1145.6L704.0,1144.6L705.5,1143.7L707.0,1142.7L708.5,1141.7L710.0,1140.7L711.5,1139.7L713.0,1138.7L714.5,1137.6L716.0,1136.6L717.5,1135.5L719.0,1134.4L720.5,1133.3L722.0,1132.2L723.5,1131.1L725.0,1130.0L726.5,1128.8L728.0,1127.6L729.5,1126.4L731.0,1125.2L732.5,1123.9L734.0,1122.6L735.5,1121.3L737.0,1119.9L738.5,1118.4L740.0,1116.9L741.0,1115.9L742.0,1114.9L743.0,1113.8L744.0,1112.7L745.0,1111.6L746.0,1110.5L747.0,1109.4L748.0,1108.3L749.0,1107.2L750.0,1106.0L751.0,1104.9L752.0,1103.8L753.0,1102.6L754.0,1101.5L755.0,1100.4L756.0,1099.2L757.0,1098.1L758.0,1096.9L759.0,1095.7L760.0,1094.5L761.0,1093.3L762.0,1092.1L763.0,1090.9L764.0,1089.6L765.0,1088.3L766.0,1087.0L767.0,1085.7L768.0,1084.4L769.0,1083.0L770.0,1081.7L771.0,1080.3L772.0,1078.8L773.0,1077.4L774.0,1075.9L775.0,1074.4L776.0,1072.9L777.0,1071.3L778.0,1069.6L779.0,1068.0L780.0,1066.2L781.0,1064.5L782.0,1062.7L783.0,1060.9L784.0,1059.0L785.0,1057.1L786.0,1055.2L787.0,1053.3L788.0,1051.3L789.0,1049.3L790.0,1047.3L791.0,1045.2L792.0,1043.0L793.0,1040.7L794.0,1038.3L795.0,1035.8L796.0,1033.1L797.0,1030.3L798.0,1027.5L799.0,1024.7L800.0,1022.0L801.0,1019.4L802.0,1016.9L803.0,1014.6L804.0,1012.3L805.0,1010.2L806.0,1008.0L807.0,1005.9L808.0,1003.8L809.0,1001.7L810.0,999.5L811.0,997.2L812.0,994.7L813.0,992.2L814.0,989.6L815.0,986.8L816.0,984.0L817.0,981.2L818.0,978.2L819.0,975.2L819.5,973.7L820.0,972.2L820.5,970.7L821.0,969.1L821.5,967.5L822.0,965.9L822.5,964.3L823.0,962.7L823.5,961.0L824.0,959.3L824.5,957.6L825.0,955.9L825.5,954.2L826.0,952.5L826.5,950.7L827.0,949.0L827.5,947.3L828.0,945.6L828.5,943.8L829.0,942.1L829.5,940.4L830.0,938.7L830.5,937.0L831.0,935.4L831.5,933.7L832.0,932.1L832.5,930.5L833.0,928.9L833.5,927.4L834.0,925.8L834.5,924.3L835.5,921.4L836.5,918.4L837.5,915.5L838.5,912.6L839.5,909.6L840.0,908.1L840.5,906.5L841.0,904.9L841.5,903.3L842.0,901.7L842.5,900.0L843.0,898.3L843.5,896.5L844.0,894.7L844.5,892.9L845.0,891.0L845.5,889.1L846.0,887.1L846.5,885.2L847.0,883.2L847.5,881.2L848.0,879.3L848.5,877.3L849.0,875.3L849.5,873.3L850.0,871.3L850.5,869.3L851.0,867.3L851.5,865.3L852.0,863.4L852.5,861.5L853.0,859.6L853.5,857.8L854.0,855.9L854.5,854.1L855.0,852.3L855.5,850.5L856.0,848.8L856.5,847.0L857.0,845.2L857.5,843.4L858.0,841.6L858.5,839.8L859.0,837.9L859.5,836.0L860.0,834.1L860.5,832.2L861.0,830.2L861.5,828.2L862.0,826.1L862.5,824.0L863.0,821.8L863.5,819.5L864.0,817.2L864.5,814.7L865.0,812.3L865.5,809.7L866.0,807.2L866.5,804.6L867.0,802.0L867.5,799.4L868.0,796.8L868.5,794.2L869.0,791.6L869.5,789.0L870.0,786.5L870.5,784.0L871.0,781.5L871.5,778.9L872.0,776.4L872.5,773.8L873.0,771.3L873.5,768.7L874.0,766.2L874.5,763.7L875.0,761.2L875.5,758.7L876.0,756.2L876.5,753.8L877.0,751.4L877.5,749.0L878.0,746.7L878.5,744.4L879.0,742.1L879.5,739.8L880.0,737.6L880.5,735.3L881.0,733.1L881.5,730.9L882.0,728.8L882.5,726.6L883.0,724.4L883.5,722.3L884.0,720.1L884.5,718.0L885.0,715.8L885.5,713.7L886.0,711.5L886.5,709.4L887.0,707.4L887.5,705.4L888.0,703.3L888.5,701.0L889.0,698.4L889.5,695.3L890.0,692.0L890.5,688.4L891.0,684.7L891.5,681.0L892.0,677.5L892.5,674.2L893.0,671.2L893.5,668.7L894.0,666.4L894.5,664.3L895.0,662.3L895.5,660.3L896.0,658.5L896.5,656.6L897.0,654.8L897.5,652.9L898.0,651.0L898.5,649.0L899.0,646.9L899.5,644.8L900.0,642.7L900.5,640.6L901.0,638.5L901.5,636.5L902.0,634.5L902.5,632.6L903.0,630.8L903.5,629.1L904.0,627.5L904.5,625.9L905.5,623.0L906.5,620.2L907.5,617.3L908.0,615.7L908.5,614.1L909.0,612.3L909.5,610.4L910.0,608.5L910.5,606.9L911.5,604.5L912.5,602.8L913.5,601.3L914.5,600.1L916.0,598.8L917.5,597.9L919.0,597.1L921.0,596.6L923.0,596.9L924.5,597.5L926.0,598.4L927.5,599.8L928.5,601.4L929.5,603.3L930.5,605.6L931.5,608.7L932.0,610.6L932.5,612.6L933.0,614.7L933.5,616.8L934.0,618.9L934.5,620.9L935.0,622.8L935.5,624.7L936.0,626.7L936.5,628.6L937.0,630.6L937.5,632.6L938.0,634.6L938.5,636.7L939.0,638.9L939.5,641.1L940.0,643.4L940.5,645.7L941.0,648.1L941.5,650.6L942.0,653.1L942.5,655.7L943.0,658.5L943.5,661.4L944.0,664.5L944.5,667.8L945.0,671.3L945.5,674.7L946.0,678.2L946.5,681.5L947.0,684.8L947.5,688.1L948.0,691.4L948.5,694.7L949.0,698.0L949.5,701.3L950.0,704.7L950.5,708.1L951.0,711.6L951.5,715.1L952.0,718.7L952.5,722.4L953.0,726.3L953.5,730.1L954.0,733.6L954.5,736.9L955.0,740.0L955.5,743.0L956.0,745.9L956.5,748.7L957.0,751.5L957.5,754.2L958.0,756.8L958.5,759.4L959.0,761.9L959.5,764.4L960.0,766.7L960.5,769.0L961.0,771.1L961.5,773.2L962.0,775.4L962.5,777.6L963.0,780.0L963.5,782.5L964.0,785.1L964.5,787.9L965.0,790.6L965.5,793.5L966.0,796.4L966.5,799.4L967.0,802.4L967.5,805.5L968.0,808.6L968.5,811.9L969.0,815.3L969.5,818.9L970.0,822.5L970.5,825.9L971.0,829.0L971.5,831.7L972.0,834.2L972.5,836.6L973.0,838.8L973.5,841.0L974.0,843.1L974.5,845.2L975.0,847.4L975.5,849.7L976.0,852.1L976.5,854.6L977.0,857.2L977.5,859.9L978.0,862.6L978.5,865.3L979.0,867.9L979.5,870.5L980.0,873.1L980.5,875.8L981.0,878.5L981.5,881.2L982.0,883.9L982.5,886.5L983.0,889.1L983.5,891.6L984.0,893.9L984.5,896.2L985.0,898.2L985.5,900.1L986.0,901.8L986.5,903.4L987.5,906.3L988.5,909.0L989.5,912.0L990.0,913.6L990.5,915.4L991.0,917.3L991.5,919.5L992.0,922.0L992.5,924.6L993.0,927.2L993.5,929.8L994.0,932.3L994.5,934.9L995.0,937.5L995.5,940.1L996.0,942.6L996.5,944.8L997.0,946.7L997.5,948.5L998.0,950.1L998.5,951.6L999.5,954.6L1000.0,956.2L1000.5,957.9L1001.0,959.9L1001.5,962.5L1002.0,965.3L1002.5,968.0L1003.0,970.0L1004.0,972.7L1005.0,974.8L1006.0,976.6L1007.0,978.3L1008.0,980.0L1009.0,982.0L1010.0,984.1L1011.0,986.3L1012.0,988.5L1013.0,990.7L1014.0,992.8L1015.0,995.0L1016.0,997.2L1017.0,999.4L1018.0,1001.5L1019.0,1003.5L1020.0,1005.5L1021.0,1007.4L1022.0,1009.3L1023.0,1011.2L1024.0,1013.0L1025.0,1014.9L1026.0,1016.7L1027.0,1018.4L1028.0,1020.2L1029.0,1021.9L1030.0,1023.7L1031.0,1025.4L1032.0,1027.1L1033.0,1028.9L1034.0,1030.6L1035.0,1032.2L1036.0,1033.9L1037.0,1035.6L1038.0,1037.2L1039.0,1038.9L1040.0,1040.5L1041.0,1042.2L1042.0,1043.8L1043.0,1045.6L1044.0,1047.3L1045.0,1049.0L1046.0,1050.7L1047.0,1052.4L1048.0,1054.0L1049.0,1055.6L1050.0,1057.1L1051.0,1058.5L1052.0,1059.9L1053.0,1061.1L1054.0,1062.3L1055.0,1063.5L1056.0,1064.7L1057.0,1065.9L1058.0,1067.0L1059.0,1068.1L1060.0,1069.1L1061.0,1070.2L1062.0,1071.2L1063.5,1072.6L1065.0,1074.0L1066.5,1075.3L1068.0,1076.5L1069.5,1077.6L1071.0,1078.7L1072.5,1079.7L1074.0,1080.7L1075.5,1081.6L1077.0,1082.5L1078.5,1083.3L1080.0,1084.1L1081.5,1084.9L1083.0,1085.7L1084.5,1086.4L1086.0,1087.1L1087.5,1087.8L1089.0,1088.5L1090.5,1089.2L1092.0,1089.9L1093.5,1090.6L1095.0,1091.3L1096.5,1091.9L1098.0,1092.5L1099.5,1093.2L1101.0,1093.8L1102.5,1094.4L1104.0,1095.0L1105.5,1095.5L1107.0,1096.1L1108.5,1096.7L1110.0,1097.2L1111.5,1097.8L1113.0,1098.3L1114.5,1098.8L1116.0,1099.3L1117.5,1099.9L1119.0,1100.4L1121.0,1101.0L1123.0,1101.7L1125.0,1102.3L1127.0,1102.9L1129.0,1103.5L1131.0,1104.1L1133.0,1104.7L1135.0,1105.3L1137.0,1105.9L1139.0,1106.4L1141.0,1107.0L1143.0,1107.5L1145.0,1108.1L1147.0,1108.6L1149.0,1109.1L1151.0,1109.6L1153.0,1110.1L1155.0,1110.6L1157.0,1111.1L1159.0,1111.6L1161.0,1112.1L1163.0,1112.5L1165.0,1113.0L1167.0,1113.4L1169.0,1113.9L1171.0,1114.3L1173.0,1114.7L1175.0,1115.1L1177.0,1115.5L1179.0,1115.9L1181.0,1116.2L1183.0,1116.6L1185.0,1117.0L1187.0,1117.4L1189.0,1117.8L1191.0,1118.2L1193.0,1118.6L1195.0,1119.0L1197.0,1119.4L1199.0,1119.8L1201.0,1120.2L1203.0,1120.6L1205.0,1121.0L1207.0,1121.4L1209.0,1121.8L1211.0,1122.2L1213.0,1122.6L1215.0,1123.0L1217.0,1123.4L1219.0,1123.8L1221.0,1124.1L1223.0,1124.5L1225.0,1124.8L1227.0,1125.2L1229.0,1125.6L1231.0,1125.9L1233.0,1126.3L1235.0,1126.6L1237.0,1127.0L1239.0,1127.3L1241.0,1127.7L1243.0,1128.0L1245.0,1128.4L1247.0,1128.7L1249.0,1129.1L1251.0,1129.4L1253.0,1129.8L1255.0,1130.1L1257.0,1130.4L1259.0,1130.8L1261.0,1131.1L1263.0,1131.4L1265.0,1131.7L1267.0,1132.0L1269.0,1132.3L1271.0,1132.6L1273.0,1132.9L1275.0,1133.2L1277.0,1133.5L1279.0,1133.7L1281.0,1134.0L1283.0,1134.3L1285.0,1134.5L1287.0,1134.7L1289.0,1134.9L1291.0,1135.1L1293.0,1135.3L1295.0,1135.5L1297.0,1135.7L1299.0,1135.8L1301.0,1136.0L1303.0,1136.2L1305.0,1136.3L1307.0,1136.4L1309.0,1136.6L1311.0,1136.6L1313.0,1136.7L1315.0,1136.7L1317.0,1136.7L1319.0,1136.7L1321.0,1136.7L1323.0,1136.7L1325.0,1136.7L1327.0,1136.7L1329.0,1136.7L1331.0,1136.7L1333.0,1136.7L1335.0,1136.7L1337.0,1136.7L1339.0,1136.7L1341.0,1136.7L1343.0,1136.6L1345.0,1136.5L1347.0,1136.2L1349.0,1136.0L1351.0,1135.7L1353.0,1135.3L1355.0,1134.9L1357.0,1134.5L1359.0,1134.2L1361.0,1133.8L1363.0,1133.4L1365.0,1133.0L1367.0,1132.6L1369.0,1132.3L1371.0,1131.9L1373.0,1131.5L1375.0,1131.1L1377.0,1130.6L1379.0,1130.2L1381.0,1129.7L1383.0,1129.3L1385.0,1128.8L1387.0,1128.3L1389.0,1127.8L1391.0,1127.2L1393.0,1126.7L1395.0,1126.1L1397.0,1125.4L1399.0,1124.8L1400.5,1124.3L1402.0,1123.7L1403.5,1123.2L1405.0,1122.7L1406.5,1122.1L1408.0,1121.6L1409.5,1121.0L1411.0,1120.5L1412.5,1119.9L1414.0,1119.4L1415.5,1118.8L1417.0,1118.3L1418.5,1117.7L1420.0,1117.1L1421.5,1116.5L1423.0,1115.9L1424.5,1115.3L1426.0,1114.7L1427.5,1114.1L1429.0,1113.5L1430.5,1112.9L1432.0,1112.3L1433.5,1111.6L1435.0,1111.0L1436.5,1110.4L1438.0,1109.8L1439.5,1109.2L1441.0,1108.6L1442.5,1108.0L1444.0,1107.4L1445.5,1106.7L1447.0,1106.1L1448.5,1105.5L1450.0,1104.9L1451.5,1104.2L1453.0,1103.6L1454.5,1103.0L1456.0,1102.4L1457.5,1101.8L1459.0,1101.2L1460.5,1100.6L1462.0,1100.1L1463.5,1099.5L1465.0,1099.0L1466.5,1098.5L1468.5,1097.8L1470.5,1097.2L1472.5,1096.6L1474.5,1095.9L1476.5,1095.3L1478.5,1094.8L1480.5,1094.2L1482.5,1093.7L1484.5,1093.1L1486.5,1092.6L1488.5,1092.0L1490.5,1091.4L1492.5,1090.8L1494.5,1090.2L1496.5,1089.7L1498.5,1089.3L1500.5,1089.1L1502.5,1089.0L1504.5,1089.0L1506.5,1089.0L1508.5,1089.0L1510.5,1089.0L1512.5,1089.0L1514.5,1089.0L1516.5,1089.0L1518.5,1089.0L1520.5,1089.0L1522.5,1089.2L1524.5,1089.6L1526.5,1090.3L1528.0,1090.8L1529.5,1091.5L1531.0,1092.1L1532.5,1092.8L1534.0,1093.5L1535.5,1094.2L1537.0,1095.1L1538.5,1096.0L1540.0,1097.1L1541.5,1098.2L1543.0,1099.4L1544.5,1100.6L1546.0,1101.8L1547.5,1103.1L1549.0,1104.5L1550.5,1106.0L1552.0,1107.5L1553.0,1108.5L1554.0,1109.5L1555.0,1110.6L1556.0,1111.7L1557.0,1112.8L1558.0,1113.9L1559.0,1115.1L1560.0,1116.3L1561.0,1117.6L1562.0,1118.9L1563.0,1120.3L1564.0,1121.7L1565.0,1123.2L1566.0,1124.7L1567.0,1126.1L1568.0,1127.6L1569.0,1129.0L1570.0,1130.4L1571.0,1131.8L1572.0,1133.1L1573.0,1134.4L1574.0,1135.6L1575.0,1136.9L1576.0,1138.1L1577.0,1139.3L1578.0,1140.5L1579.0,1141.7L1580.0,1142.9L1581.0,1144.0L1582.0,1145.1L1583.0,1146.1L1584.0,1147.1L1585.0,1148.2L1586.0,1149.2L1587.0,1150.2L1588.5,1151.7L1590.0,1153.0L1591.5,1154.3L1593.0,1155.4L1594.5,1156.4L1596.0,1157.3L1597.5,1158.1L1599.0,1158.9L1600.5,1159.6L1602.0,1160.2L1603.5,1160.8L1605.5,1161.4L1607.5,1162.0L1609.5,1162.5L1611.5,1162.9L1613.5,1163.3L1615.5,1163.6L1617.5,1163.8L1619.5,1164.0L1621.5,1164.1L1623.5,1164.3L1625.5,1164.4L1627.5,1164.5L1629.5,1164.6L1631.5,1164.6L1633.5,1164.7L1635.5,1164.8L1637.5,1164.8L1639.5,1164.9L1641.5,1164.9L1643.5,1165.0L1645.5,1165.0L1647.5,1165.1L1649.5,1165.1L1651.5,1165.1L1653.5,1165.2L1655.5,1165.2L1657.5,1165.2L1659.5,1165.3L1661.5,1165.3L1663.5,1165.3L1665.5,1165.3L1667.5,1165.4L1669.5,1165.4L1671.5,1165.4L1673.5,1165.4L1675.5,1165.4L1677.5,1165.4L1679.5,1165.4L1681.5,1165.4L1683.5,1165.4L1685.5,1165.5L1687.5,1165.5L1689.5,1165.5L1691.5,1165.5L1693.5,1165.5L1695.5,1165.5L1697.5,1165.5L1699.5,1165.5L1701.5,1165.5L1703.5,1165.5L1705.5,1165.5L1707.5,1165.5L1709.5,1165.5L1711.5,1165.6L1713.5,1165.6L1715.5,1165.6L1717.5,1165.6L1719.5,1165.6L1721.5,1165.6L1723.5,1165.6L1725.5,1165.6L1727.5,1165.6L1729.5,1165.6L1731.5,1165.6L1733.5,1165.6L1735.5,1165.6L1737.5,1165.6L1739.5,1165.6L1741.5,1165.6L1743.5,1165.6L1745.5,1165.6L1747.5,1165.7L1749.5,1165.7L1751.5,1165.7L1753.5,1165.7L1755.5,1165.7L1757.5,1165.7L1759.5,1165.7L1761.5,1165.7L1763.5,1165.7L1765.5,1165.7L1767.5,1165.7L1769.5,1165.7L1771.5,1165.7L1773.5,1165.7L1775.5,1165.7L1777.5,1165.7L1779.5,1165.7L1781.5,1165.7L1783.5,1165.7L1785.5,1165.7L1787.5,1165.7L1789.5,1165.7L1791.5,1165.7L1793.5,1165.7L1795.5,1165.7L1797.5,1165.7L1799.5,1165.7L1801.5,1165.7L1803.5,1165.7L1805.5,1165.7L1807.5,1165.7L1809.5,1165.7L1811.5,1165.7L1813.5,1165.7L1815.5,1165.7L1817.5,1165.7L1819.5,1165.6L1821.5,1165.6L1823.5,1165.6L1825.5,1165.6L1827.5,1165.6L1829.5,1165.6L1831.5,1165.6L1833.5,1165.6L1835.5,1165.6L1837.5,1165.5L1839.5,1165.5L1841.5,1165.5L1843.5,1165.5L1845.5,1165.5L1847.5,1165.5L1849.5,1165.4L1851.5,1165.4L1853.5,1165.4L1855.5,1165.4L1857.5,1165.4L1859.5,1165.4L1861.5,1165.3L1863.5,1165.3L1865.5,1165.3L1867.5,1165.3L1869.5,1165.3L1871.5,1165.2L1873.5,1165.2L1875.5,1165.2L1877.5,1165.2L1879.5,1165.2L1881.5,1165.1L1883.5,1165.1L1885.5,1165.1L1887.5,1165.1L1889.5,1165.1L1891.5,1165.0L1893.5,1165.0L1895.5,1165.0L1897.5,1165.0L1899.5,1165.0L1901.5,1164.9L1903.5,1164.9L1905.5,1164.9L1907.5,1164.9L1909.5,1164.8L1911.5,1164.8L1913.5,1164.8L1915.5,1164.8L1917.5,1164.8L1919.5,1164.7L1921.5,1164.7L1923.5,1164.7L1925.5,1164.7L1927.5,1164.6L1929.5,1164.6L1931.5,1164.6L1933.5,1164.6L1935.5,1164.5L1937.5,1164.5L1939.5,1164.5L1941.5,1164.5L1943.5,1164.4L1945.5,1164.4L1947.5,1164.4L1949.5,1164.3L1951.5,1164.3L1953.5,1164.3L1955.5,1164.2L1957.5,1164.2L1959.5,1164.2L1961.5,1164.1L1963.5,1164.1L1965.5,1164.1L1967.5,1164.0L1969.5,1164.0L1971.5,1164.0L1973.5,1163.9L1975.5,1163.9L1977.5,1163.9L1979.5,1163.8L1981.5,1163.8L1983.5,1163.8L1985.5,1163.7L1987.5,1163.7L1989.5,1163.6L1991.5,1163.6L1993.5,1163.6L1995.5,1163.5L1997.5,1163.5L1999.5,1163.4L2001.5,1163.4L2003.5,1163.4L2005.5,1163.3L2007.5,1163.3L2009.5,1163.2L2011.5,1163.2L2013.5,1163.2L2015.5,1163.1L2017.5,1163.1L2019.5,1163.0L2021.5,1163.0L2023.5,1162.9L2025.5,1162.9L2027.5,1162.9L2029.5,1162.8L2030.0,1162.8"/>
<path class="c d" stroke="#35B254" d="M138.4,1176.0L140.9,1176.0L143.4,1176.0L145.9,1176.0L148.4,1176.0L150.9,1176.0L151.0,1176.0M168.4,1176.0L170.9,1176.0L173.4,1175.9L175.9,1175.9L178.4,1175.9L180.9,1175.9L181.0,1175.9M198.4,1175.8L200.9,1175.8L203.4,1175.8L205.9,1175.8L208.4,1175.8L210.9,1175.8L211.0,1175.8M228.4,1175.7L230.9,1175.7L233.4,1175.6L235.9,1175.6L238.4,1175.6L240.9,1175.6L241.0,1175.6M258.4,1175.4L260.9,1175.4L263.4,1175.4L265.9,1175.4L268.4,1175.4L270.9,1175.3L271.0,1175.3M288.4,1175.2L290.9,1175.1L293.4,1175.1L295.9,1175.1L298.4,1175.1L300.9,1175.1L301.0,1175.0M318.4,1174.9L320.9,1174.8L323.4,1174.8L325.9,1174.8L328.4,1174.8L330.9,1174.7L331.0,1174.7M348.4,1174.5L350.9,1174.5L353.4,1174.5L355.9,1174.5L358.4,1174.4L360.9,1174.4L361.0,1174.4M378.4,1174.2L380.9,1174.2L383.4,1174.1L385.9,1174.1L388.4,1174.0L390.9,1174.0L391.0,1174.0M408.4,1173.7L410.9,1173.6L413.4,1173.6L415.9,1173.5L418.4,1173.5L420.9,1173.4L421.0,1173.4M438.4,1173.0L440.9,1173.0L443.4,1172.9L445.9,1172.9L448.4,1172.8L450.9,1172.7L451.0,1172.7M468.4,1172.2L470.9,1172.1L473.4,1172.0L475.9,1171.9L478.4,1171.8L480.9,1171.7L481.0,1171.7M498.4,1170.9L500.8,1170.8L503.2,1170.7L505.6,1170.5L508.0,1170.4L510.4,1170.3L511.0,1170.2M528.4,1169.4L530.9,1169.3L533.4,1169.2L535.9,1169.1L538.4,1169.0L540.9,1168.9M558.3,1168.5L560.8,1168.4L563.3,1168.3L565.8,1168.3L568.3,1168.2L570.8,1168.1L570.9,1168.1M588.3,1167.6L590.8,1167.5L593.3,1167.4L595.7,1167.2L598.1,1167.1L600.5,1167.0L600.9,1167.0M618.3,1165.9L620.7,1165.8L623.1,1165.6L625.5,1165.4L627.8,1165.2L630.1,1164.9L630.8,1164.9M647.6,1162.4L649.6,1161.9L651.5,1161.2L653.4,1160.5L655.3,1159.8L657.2,1159.0L657.6,1158.9M670.3,1154.6L672.2,1153.9L674.1,1153.2L675.9,1152.4L677.7,1151.6L679.3,1150.9M689.9,1142.8L691.2,1141.6L692.5,1140.3L693.8,1139.0L695.1,1137.8L696.4,1136.5L696.9,1136.1M706.4,1126.8L707.7,1125.4L709.0,1124.1L710.3,1122.8L711.6,1121.4L712.9,1120.1L713.2,1119.8M722.8,1110.5L724.1,1109.3L725.4,1108.0L726.7,1106.6L728.0,1105.3L729.2,1103.9L729.6,1103.5M737.6,1092.8L738.7,1091.2L739.8,1089.5L740.9,1087.9L742.0,1086.2L743.0,1084.8M750.3,1073.5L751.3,1071.8L752.3,1070.2L753.3,1068.5L754.3,1066.7L755.2,1065.1M761.3,1053.3L762.2,1051.4L763.1,1049.5L764.0,1047.6L764.9,1045.7L765.5,1044.4M771.0,1032.3L771.8,1030.5L772.6,1028.6L773.4,1026.8L774.2,1024.9L774.8,1023.5M780.0,1011.1L780.8,1009.2L781.6,1007.2L782.4,1005.1L783.1,1003.3L783.6,1001.9M787.8,989.2L788.4,987.1L789.0,985.1L789.6,983.0L790.2,980.9L790.5,979.8M794.3,967.0L794.9,965.0L795.5,963.0L796.1,961.0L796.7,959.0L797.0,958.0M800.9,945.0L801.5,943.0L802.1,941.0L802.7,939.0L803.3,937.0L803.7,935.7M807.5,923.0L808.1,921.0L808.7,919.1L809.4,916.9L810.1,914.7L810.4,913.8M814.3,900.7L814.9,898.4L815.4,896.4L815.9,894.2L816.4,891.9L816.5,891.4M819.2,878.0L819.7,875.5L820.2,873.0L820.7,870.6L821.1,868.6M823.7,855.7L824.2,853.1L824.7,850.6L825.2,848.0L825.6,845.9M828.0,833.1L828.4,831.0L828.8,828.8L829.2,826.6L829.6,824.4L829.8,823.3M832.1,810.0L832.5,807.5L832.9,805.0L833.3,802.5L833.6,800.6M835.8,787.6L836.2,785.5L836.7,783.0L837.2,780.6L837.7,778.3L837.8,777.8M840.8,764.7L841.3,762.4L841.8,760.0L842.3,757.5L842.7,755.4L843.0,753.8M845.4,738.9L845.8,736.3L846.2,733.9L846.6,731.5L847.0,729.2L847.4,727.0M851.2,710.1L851.7,708.0L852.2,705.9L852.7,703.7L853.2,701.4L853.7,699.0L854.0,697.5M857.2,680.5L857.6,678.2L858.0,675.8L858.4,673.4L858.8,670.9L859.2,668.3M861.6,650.8L861.9,648.5L862.2,646.3L862.5,644.0L862.8,641.7L863.1,639.3L863.2,638.5M865.4,620.8L865.7,618.6L866.1,615.8L866.5,613.1L866.9,610.5L867.2,608.6M870.1,591.6L870.5,589.4L870.9,587.1L871.3,584.8L871.7,582.6L872.1,580.4L872.4,578.8M875.5,562.0L875.9,559.6L876.3,557.2L876.7,554.7L877.1,552.0L877.5,549.0M879.1,532.1L879.3,529.7L879.5,527.3L879.7,525.0L880.0,521.6L880.2,519.5M882.6,502.6L883.0,500.4L883.5,497.9L884.0,495.5L884.5,493.3L885.0,491.3L885.3,490.1M891.4,474.0L892.0,472.0L892.6,469.6L893.0,467.4L893.4,464.7L893.7,462.4L893.8,461.6M895.8,444.1L896.1,441.7L896.4,439.4L896.7,437.2L897.0,434.9L897.3,432.6L897.4,431.9M899.8,414.0L900.1,411.8L900.4,409.5L900.7,407.2L901.0,404.9L901.3,402.6L901.4,401.8M903.8,384.3L904.2,381.8L904.6,379.3L905.0,376.9L905.4,374.6L905.8,372.4M908.7,355.0L909.1,352.2L909.4,349.9L909.7,347.6L910.0,345.2L910.3,342.8M912.5,325.0L912.8,322.8L913.2,319.9L913.6,317.0L914.0,314.1L914.2,312.7M916.6,295.2L916.9,292.6L917.2,289.9L917.5,287.3L917.8,284.8L918.0,283.3M924.6,267.5L926.1,266.4L928.4,266.1L930.1,266.9L931.5,268.1L932.7,269.5L933.8,271.1L934.3,271.9M938.5,288.8L938.8,291.1L939.1,293.4L939.4,295.7L939.7,297.9L940.1,300.7L940.2,301.3M942.7,318.6L943.0,321.1L943.3,323.7L943.6,326.5L943.9,329.7L944.0,330.9M945.2,348.5L945.4,351.6L945.6,354.6L945.8,357.4L946.0,360.0L946.1,361.2M947.7,378.8L948.0,382.1L948.3,385.4L948.6,388.8L948.8,391.2M950.1,408.4L950.3,411.1L950.5,413.7L950.7,416.3L950.9,418.8L951.1,421.2M952.6,437.9L952.9,441.1L953.2,444.4L953.5,447.7L953.8,451.2M955.1,467.7L955.3,470.1L955.5,472.4L955.8,475.6L956.1,478.4L956.4,480.8M959.1,497.9L959.5,500.8L959.8,503.2L960.1,505.9L960.4,509.0L960.5,510.0M961.9,528.2L962.1,531.2L962.3,534.3L962.5,537.5L962.7,541.0M963.5,559.3L963.6,561.8L963.7,564.3L963.8,566.8L963.9,569.3L964.0,571.8M964.8,588.6L965.0,591.5L965.2,593.9L965.5,597.1L965.8,599.9M968.1,617.0L968.4,620.2L968.6,622.7L968.8,625.5L969.0,629.1L969.1,631.2M969.8,648.7L969.9,651.4L970.0,654.0L970.1,656.8L970.2,660.0M970.8,679.6L970.9,682.1L971.1,685.6L971.3,688.5L971.4,689.8M973.3,707.2L973.6,710.3L973.8,712.7L974.0,715.2L974.2,717.7L974.4,720.3M975.6,737.7L975.8,740.8L976.0,744.0L976.2,747.5L976.3,749.3M977.2,766.9L977.4,770.1L977.6,772.8L977.8,775.1L978.1,778.2L978.2,779.2M980.4,797.3L980.7,800.4L980.9,802.7L981.1,805.3L981.3,808.3L981.4,809.9M982.3,827.3L982.5,831.5L982.7,836.3L982.8,839.0M983.5,857.9L983.7,861.5L983.9,864.2L984.1,866.7L984.3,869.0M986.4,886.5L986.8,889.2L987.2,891.9L987.6,894.7L988.0,897.6L988.2,898.9M991.0,916.2L991.4,918.5L991.8,920.8L992.2,923.1L992.6,925.4L993.0,927.7L993.1,928.3M995.8,945.5L996.2,948.4L996.5,950.6L996.8,952.8L997.1,955.1L997.4,957.4L997.5,958.2M999.8,975.8L1000.2,978.7L1000.6,981.5L1001.0,984.2L1001.4,986.7L1001.6,988.0M1005.0,1004.6L1005.5,1006.7L1006.0,1008.7L1006.6,1011.1L1007.2,1013.3L1007.8,1015.5L1008.0,1016.2M1012.7,1031.3L1013.4,1033.4L1014.1,1035.3L1014.8,1037.2L1015.5,1039.1L1016.2,1040.9L1016.7,1042.2M1022.3,1056.3L1023.1,1058.3L1023.9,1060.2L1024.7,1062.2L1025.5,1064.1L1026.3,1065.9L1026.5,1066.3M1034.4,1079.1L1035.6,1080.5L1036.8,1081.9L1038.0,1083.2L1039.3,1084.6L1040.6,1086.0L1041.8,1087.2M1052.4,1097.9L1054.0,1098.8L1055.7,1099.7L1057.5,1100.5L1059.4,1101.2L1061.3,1101.9L1062.5,1102.3M1076.7,1107.3L1078.6,1108.0L1080.5,1108.6L1082.4,1109.2L1084.3,1109.9L1086.2,1110.5L1087.1,1110.8M1101.6,1115.3L1103.6,1115.9L1105.6,1116.5L1107.6,1117.1L1109.6,1117.6L1111.6,1118.2L1112.1,1118.3M1126.9,1121.6L1129.0,1122.0L1131.1,1122.4L1133.3,1122.8L1135.5,1123.2L1137.6,1123.6M1152.6,1125.9L1154.9,1126.2L1157.2,1126.5L1159.5,1126.8L1161.8,1127.1L1163.5,1127.3M1178.5,1128.9L1180.8,1129.1L1183.1,1129.3L1185.4,1129.5L1187.8,1129.7L1189.4,1129.8M1204.5,1131.1L1206.9,1131.3L1209.3,1131.5L1211.7,1131.6L1214.1,1131.8L1215.4,1131.9M1230.5,1132.7L1233.0,1132.8L1235.5,1132.9L1238.0,1133.0L1240.5,1133.1L1241.5,1133.1M1256.6,1133.7L1259.1,1133.7L1261.6,1133.8L1264.1,1133.9L1266.6,1134.0L1267.6,1134.1M1282.7,1134.7L1285.1,1134.8L1287.5,1134.9L1289.9,1135.0L1292.3,1135.1L1293.6,1135.2M1308.7,1136.5L1311.1,1136.6L1313.6,1136.7L1316.1,1136.7L1318.7,1136.7L1319.6,1136.7M1334.8,1136.7L1337.4,1136.7L1340.0,1136.7L1342.5,1136.6L1344.9,1136.5L1345.7,1136.4M1360.7,1134.2L1362.9,1133.8L1365.1,1133.5L1367.3,1133.1L1369.5,1132.7L1371.5,1132.4M1386.3,1129.3L1388.4,1128.8L1390.5,1128.4L1392.6,1128.0L1394.7,1127.5L1396.8,1127.1L1397.0,1127.0M1411.3,1124.3L1413.6,1124.0L1415.9,1123.7L1418.2,1123.4L1420.5,1123.2L1420.9,1123.1M1433.3,1121.9L1435.6,1121.6L1437.9,1121.4L1440.2,1121.1L1442.2,1120.9M1454.6,1120.0L1457.1,1120.0L1459.6,1120.0L1462.1,1120.1L1463.6,1120.1M1476.0,1120.7L1478.4,1120.9L1480.8,1121.1L1483.1,1121.3L1485.0,1121.5M1497.2,1124.1L1499.2,1124.6L1501.2,1125.1L1503.2,1125.7L1505.1,1126.3L1505.8,1126.6M1517.2,1131.6L1518.9,1132.5L1520.6,1133.3L1522.3,1134.2L1523.9,1135.1L1525.1,1135.9M1535.8,1142.1L1537.5,1142.9L1539.2,1143.7L1541.0,1144.5L1542.8,1145.4L1544.0,1145.9M1555.6,1150.2L1557.6,1150.8L1559.6,1151.3L1561.6,1151.9L1563.7,1152.4L1564.3,1152.5M1576.5,1154.9L1578.7,1155.3L1580.9,1155.7L1583.1,1156.0L1585.3,1156.4L1585.4,1156.4M1597.6,1157.8L1600.0,1158.0L1602.4,1158.1L1604.8,1158.3L1606.0,1158.3M1617.3,1158.8L1619.8,1158.9L1622.3,1159.0L1624.8,1159.1L1625.4,1159.1M1636.6,1159.4L1639.1,1159.4L1641.6,1159.4L1644.1,1159.4L1644.6,1159.4M1655.8,1159.5L1658.3,1159.6L1660.8,1159.6L1663.3,1159.6L1663.8,1159.6M1674.9,1159.7L1677.4,1159.7L1679.9,1159.7L1682.4,1159.7L1682.9,1159.7M1694.0,1159.8L1696.5,1159.8L1699.0,1159.8L1701.5,1159.9L1701.9,1159.9M1712.9,1159.9L1715.4,1159.9L1717.9,1159.9L1720.4,1159.9L1720.9,1159.9M1731.8,1160.0L1734.3,1160.0L1736.8,1160.0L1739.3,1160.0L1739.7,1160.0M1750.6,1160.0L1753.1,1160.1L1755.6,1160.1L1758.1,1160.1L1758.5,1160.1M1768.8,1160.1L1771.3,1160.1L1773.8,1160.1L1775.4,1160.1M1783.8,1160.1L1786.3,1160.1L1788.8,1160.1L1789.3,1160.1M1796.5,1160.1L1799.0,1160.1L1801.4,1160.1M1808.1,1160.1L1810.6,1160.1L1813.0,1160.1M1819.7,1160.1L1822.2,1160.1L1824.5,1160.1M1831.2,1160.0L1833.7,1160.0L1836.0,1160.0M1842.7,1160.0L1845.2,1160.0L1847.6,1160.0M1854.3,1159.9L1856.8,1159.9L1859.1,1159.9M1865.8,1159.9L1868.3,1159.9L1870.7,1159.9M1877.3,1159.8L1879.8,1159.8L1882.2,1159.8M1888.9,1159.8L1891.4,1159.7L1893.7,1159.7M1900.4,1159.7L1902.9,1159.7L1905.3,1159.7M1912.0,1159.6L1914.5,1159.6L1916.8,1159.6M1923.5,1159.5L1926.0,1159.5L1928.3,1159.5M1935.0,1159.4L1937.5,1159.4L1939.9,1159.4M1946.6,1159.3L1949.1,1159.3L1951.4,1159.3M1958.1,1159.2L1960.6,1159.2L1963.0,1159.2M1969.7,1159.1L1972.2,1159.1L1974.5,1159.0M1981.2,1159.0L1983.7,1158.9L1986.0,1158.9M1992.7,1158.8L1995.2,1158.8L1997.6,1158.8M2004.3,1158.7L2006.8,1158.6L2009.1,1158.6M2015.8,1158.5L2018.3,1158.5L2020.6,1158.4M2027.3,1158.3L2029.8,1158.3L2030.0,1158.3"/>
</g>
<g id="axes" fill="#000">
<rect x="135" y="23" width="8" height="1190"/>
<rect x="135" y="1205" width="1898.3" height="8"/>
<rect x="270.3" y="1195.5" width="7.8" height="11"/>
<rect x="405.3" y="1182.5" width="7.8" height="24"/>
<rect x="540.3" y="1195.5" width="7.8" height="11"/>
<rect x="675.3" y="1182.5" width="7.8" height="24"/>
<rect x="810.3" y="1195.5" width="7.8" height="11"/>
<rect x="945.3" y="1182.5" width="7.8" height="24"/>
<rect x="1080.3" y="1195.5" width="7.8" height="11"/>
<rect x="1215.3" y="1182.5" width="7.8" height="24"/>
<rect x="1350.3" y="1195.5" width="7.8" height="11"/>
<rect x="1485.3" y="1182.5" width="7.8" height="24"/>
<rect x="1620.3" y="1195.5" width="7.8" height="11"/>
<rect x="1755.3" y="1182.5" width="7.8" height="24"/>
<rect x="1890.3" y="1195.5" width="7.8" height="11"/>
<rect x="2025.3" y="1182.5" width="7.8" height="24"/>
</g>
<g id="ticklabels" text-anchor="middle">
<text transform="translate(139.2,1281.5) scale(0.965,1)">100</text>
<text transform="translate(409.2,1281.5) scale(0.965,1)">200</text>
<text transform="translate(679.2,1281.5) scale(0.965,1)">300</text>
<text transform="translate(949.2,1281.5) scale(0.965,1)">400</text>
<text transform="translate(1219.2,1281.5) scale(0.965,1)">500</text>
<text transform="translate(1489.2,1281.5) scale(0.965,1)">600</text>
<text transform="translate(1759.2,1281.5) scale(0.965,1)">700</text>
<text transform="translate(2029.2,1281.5) scale(0.965,1)">800</text>
</g>
<text transform="translate(1083.1,1363.7) scale(0.9430,1)" text-anchor="middle" class="t">Temperature (°C)</text>
<text transform="translate(83.3,617.8) rotate(-90) scale(0.9383,1)" text-anchor="middle" class="t">TCD signal (a.u.)</text>
<g id="arrows" shape-rendering="crispEdges">
<line x1="849.8" y1="230.3" x2="849.8" y2="290.6" stroke="#000" stroke-width="6.3"/><polygon points="849.8,323.6 832.3,288.6 867.3,288.6" fill="#000"/>
<line x1="928.0" y1="168.8" x2="928.0" y2="229.6" stroke="#000" stroke-width="6.3"/><polygon points="928.0,262.6 910.5,227.6 945.5,227.6" fill="#000"/>
<line x1="666.0" y1="504.5" x2="807.4" y2="578.7" stroke="#000" stroke-width="6.3"/><polygon points="836.6,594.0 797.5,593.2 813.7,562.2" fill="#000"/>
<line x1="1087.6" y1="506.4" x2="945.9" y2="579.5" stroke="#000" stroke-width="6.3"/><polygon points="916.6,594.6 939.7,563.0 955.7,594.1" fill="#000"/>
<line x1="616.0" y1="728.0" x2="757.3" y2="802.6" stroke="#000" stroke-width="6.3"/><polygon points="786.5,818.0 747.4,817.1 763.7,786.2" fill="#000"/>
<line x1="602.5" y1="808.5" x2="743.5" y2="882.2" stroke="#000" stroke-width="6.3"/><polygon points="772.7,897.5 733.6,896.8 749.8,865.8" fill="#000"/>
<line x1="1130.3" y1="904.7" x2="1207.7" y2="1032.5" stroke="#000" stroke-width="6.3"/><polygon points="1224.8,1060.7 1191.7,1039.8 1221.6,1021.7" fill="#000"/>
<line x1="1301.5" y1="895.2" x2="1301.5" y2="1052.0" stroke="#000" stroke-width="6.3"/><polygon points="1301.5,1085.0 1284.0,1050.0 1319.0,1050.0" fill="#000"/>
<line x1="1435.2" y1="811.0" x2="1357.9" y2="938.0" stroke="#000" stroke-width="6.3"/><polygon points="1340.7,966.2 1344.0,927.2 1373.8,945.4" fill="#000"/>
<line x1="1475.8" y1="933.3" x2="1475.8" y2="1090.0" stroke="#000" stroke-width="6.3"/><polygon points="1475.8,1123.0 1458.3,1088.0 1493.3,1088.0" fill="#000"/>
<line x1="1620.0" y1="932.0" x2="1543.3" y2="1058.3" stroke="#000" stroke-width="6.3"/><polygon points="1526.2,1086.5 1529.4,1047.5 1559.3,1065.7" fill="#000"/>
<line x1="1636.0" y1="1005.5" x2="1595.6" y2="1073.3" stroke="#000" stroke-width="6.3"/><polygon points="1578.7,1101.7 1581.6,1062.7 1611.6,1080.6" fill="#000"/>
</g>
<g id="labels">
<text transform="translate(852.5,139.6) scale(0.965,1)">394°C</text>
<text transform="translate(740.3,209.2) scale(0.965,1)">363°C</text>
<text transform="translate(484.7,523.0) scale(0.965,1)">357°C</text>
<text transform="translate(1097.3,516.7) scale(0.965,1)">390°C</text>
<text transform="translate(444.1,746.3) scale(0.965,1)">340°C</text>
<text transform="translate(430.3,828.0) scale(0.965,1)">335°C</text>
<text transform="translate(1356.7,787.8) scale(0.965,1)">537°C</text>
<text transform="translate(1220.1,870.9) scale(0.965,1)">523°C</text>
<text transform="translate(1038.1,883.0) scale(0.965,1)">492°C</text>
<text transform="translate(1416.8,917.0) scale(0.965,1)">589°C</text>
<text transform="translate(1631.1,943.5) scale(0.965,1)">610°C</text>
<text transform="translate(1651.9,1021.7) scale(0.965,1)">630°C</text>
</g>
<g id="legend" shape-rendering="crispEdges">
<line x1="1492.9" y1="120" x2="1599" y2="120" stroke="#EF9135" stroke-width="8.2" stroke-linecap="round"/>
<text class="t" transform="translate(1615.1,139.8) scale(0.945,1)">Ni/SiO<tspan class="sub" dx="2.9" dy="15.8">2</tspan></text>
<line x1="1492.9" y1="206.3" x2="1600" y2="206.3" stroke="#EF9135" stroke-width="8.2" stroke-linecap="round" stroke-dasharray="14 16"/>
<text class="t" transform="translate(1615.1,226) scale(0.945,1)">Ni-C/SiO<tspan class="sub" dx="2.9" dy="15.8">2</tspan></text>
<line x1="1492.9" y1="291.7" x2="1599" y2="291.7" stroke="#0AABE2" stroke-width="8.2" stroke-linecap="round"/>
<text class="t" transform="translate(1615.1,311.4) scale(0.945,1)">Ni/ZSM-5</text>
<line x1="1492.9" y1="365.4" x2="1600" y2="365.4" stroke="#0AABE2" stroke-width="8.2" stroke-linecap="round" stroke-dasharray="14 16"/>
<text class="t" transform="translate(1615.1,384.6) scale(0.945,1)">Ni-C/ZSM=5</text>
<line x1="1492.9" y1="438.6" x2="1599" y2="438.6" stroke="#35B254" stroke-width="8.2" stroke-linecap="round"/>
<text class="t" transform="translate(1615.1,458.3) scale(0.945,1)">Ni/TiO<tspan class="sub" dx="2.9" dy="15.8">2</tspan></text>
<line x1="1492.9" y1="524.4" x2="1600" y2="524.4" stroke="#35B254" stroke-width="8.2" stroke-linecap="round" stroke-dasharray="14 16"/>
<text class="t" transform="translate(1615.1,544.1) scale(0.945,1)">Ni-C/TiO<tspan class="sub" dx="2.9" dy="15.8">2</tspan></text>
</g>
</svg></body></html>
